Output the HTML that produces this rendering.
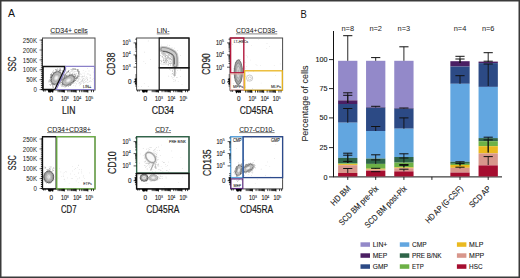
<!DOCTYPE html>
<html><head><meta charset="utf-8"><style>
html,body{margin:0;padding:0;background:#fff;}
body{width:520px;height:278px;overflow:hidden;position:relative;}
svg{position:absolute;left:0;top:0;font-family:"Liberation Sans", sans-serif;}
</style></head><body>
<svg width="520" height="278" viewBox="0 0 520 278">
<defs><filter id="bl" x="-20%" y="-20%" width="140%" height="140%"><feGaussianBlur stdDeviation="0.15"/></filter></defs>
<rect x="0" y="0" width="520" height="278" fill="#fff"/>
<text x="8" y="17.3" font-size="10.5" fill="#111">A</text>
<text x="300.6" y="17.6" font-size="10.5" fill="#111" textLength="6.3" lengthAdjust="spacingAndGlyphs">B</text>
<text x="69.05" y="33.3" font-size="7.8" fill="#222" text-anchor="middle" textLength="37.5" lengthAdjust="spacingAndGlyphs" stroke="#222" stroke-width="0.06">CD34+ cells</text>
<line x1="50.3" y1="33.9" x2="87.8" y2="33.9" stroke="#333" stroke-width="0.6"/>
<text x="68.75" y="113.9" font-size="10.0" fill="#1a1a1a" text-anchor="middle" textLength="13.3" lengthAdjust="spacingAndGlyphs" stroke="#1a1a1a" stroke-width="0.2">LIN</text>
<text x="16.0" y="64" font-size="10.0" fill="#1a1a1a" text-anchor="middle" textLength="15" lengthAdjust="spacingAndGlyphs" transform="rotate(-90 16.0 64)" stroke="#1a1a1a" stroke-width="0.2">SSC</text>
<text x="163.10000000000002" y="33.3" font-size="7.8" fill="#222" text-anchor="middle" textLength="12.7" lengthAdjust="spacingAndGlyphs" stroke="#222" stroke-width="0.06">LIN-</text>
<line x1="156.75000000000003" y1="33.9" x2="169.45000000000002" y2="33.9" stroke="#333" stroke-width="0.6"/>
<text x="162.8" y="113.9" font-size="10.0" fill="#1a1a1a" text-anchor="middle" textLength="22.3" lengthAdjust="spacingAndGlyphs" stroke="#1a1a1a" stroke-width="0.2">CD34</text>
<text x="115.1" y="64" font-size="10.0" fill="#1a1a1a" text-anchor="middle" textLength="22.7" lengthAdjust="spacingAndGlyphs" transform="rotate(-90 115.1 64)" stroke="#1a1a1a" stroke-width="0.2">CD38</text>
<text x="256.6" y="33.3" font-size="7.8" fill="#222" text-anchor="middle" textLength="41.3" lengthAdjust="spacingAndGlyphs" stroke="#222" stroke-width="0.06">CD34+CD38-</text>
<line x1="235.95000000000002" y1="33.9" x2="277.25" y2="33.9" stroke="#333" stroke-width="0.6"/>
<text x="256.3" y="113.9" font-size="10.0" fill="#1a1a1a" text-anchor="middle" textLength="33.2" lengthAdjust="spacingAndGlyphs" stroke="#1a1a1a" stroke-width="0.2">CD45RA</text>
<text x="209.6" y="64" font-size="10.0" fill="#1a1a1a" text-anchor="middle" textLength="21.5" lengthAdjust="spacingAndGlyphs" transform="rotate(-90 209.6 64)" stroke="#1a1a1a" stroke-width="0.2">CD90</text>
<text x="69.05" y="132.0" font-size="7.8" fill="#222" text-anchor="middle" textLength="43.8" lengthAdjust="spacingAndGlyphs" stroke="#222" stroke-width="0.06">CD34+CD38+</text>
<line x1="47.15" y1="132.6" x2="90.94999999999999" y2="132.6" stroke="#333" stroke-width="0.6"/>
<text x="68.75" y="212.6" font-size="10.0" fill="#1a1a1a" text-anchor="middle" textLength="15.5" lengthAdjust="spacingAndGlyphs" stroke="#1a1a1a" stroke-width="0.2">CD7</text>
<text x="16.5" y="162.7" font-size="10.0" fill="#1a1a1a" text-anchor="middle" textLength="15" lengthAdjust="spacingAndGlyphs" transform="rotate(-90 16.5 162.7)" stroke="#1a1a1a" stroke-width="0.2">SSC</text>
<text x="163.10000000000002" y="132.0" font-size="7.8" fill="#222" text-anchor="middle" textLength="15.9" lengthAdjust="spacingAndGlyphs" stroke="#222" stroke-width="0.06">CD7-</text>
<line x1="155.15000000000003" y1="132.6" x2="171.05" y2="132.6" stroke="#333" stroke-width="0.6"/>
<text x="162.8" y="212.6" font-size="10.0" fill="#1a1a1a" text-anchor="middle" textLength="33.2" lengthAdjust="spacingAndGlyphs" stroke="#1a1a1a" stroke-width="0.2">CD45RA</text>
<text x="115.89999999999999" y="162.7" font-size="10.0" fill="#1a1a1a" text-anchor="middle" textLength="22.7" lengthAdjust="spacingAndGlyphs" transform="rotate(-90 115.89999999999999 162.7)" stroke="#1a1a1a" stroke-width="0.2">CD10</text>
<text x="256.90000000000003" y="132.0" font-size="7.8" fill="#222" text-anchor="middle" textLength="35.4" lengthAdjust="spacingAndGlyphs" stroke="#222" stroke-width="0.06">CD7-CD10-</text>
<line x1="239.20000000000005" y1="132.6" x2="274.6" y2="132.6" stroke="#333" stroke-width="0.6"/>
<text x="256.6" y="212.6" font-size="10.0" fill="#1a1a1a" text-anchor="middle" textLength="33.2" lengthAdjust="spacingAndGlyphs" stroke="#1a1a1a" stroke-width="0.2">CD45RA</text>
<text x="210.6" y="162.7" font-size="10.0" fill="#1a1a1a" text-anchor="middle" textLength="26.6" lengthAdjust="spacingAndGlyphs" transform="rotate(-90 210.6 162.7)" stroke="#1a1a1a" stroke-width="0.2">CD135</text>
<rect x="42.5" y="38" width="52.5" height="52" fill="white" stroke="#4a4a4a" stroke-width="1"/>
<g fill="#aaa"><circle cx="78.2" cy="81.0" r="0.3"/><circle cx="78.4" cy="77.7" r="0.3"/><circle cx="73.5" cy="78.1" r="0.3"/><circle cx="87.8" cy="80.7" r="0.3"/><circle cx="87.3" cy="80.0" r="0.3"/><circle cx="82.8" cy="79.7" r="0.3"/><circle cx="68.3" cy="82.4" r="0.3"/><circle cx="83.5" cy="81.0" r="0.3"/><circle cx="68.2" cy="72.0" r="0.3"/><circle cx="73.8" cy="77.1" r="0.3"/><circle cx="82.1" cy="78.8" r="0.3"/><circle cx="83.6" cy="76.4" r="0.3"/><circle cx="82.2" cy="80.6" r="0.3"/><circle cx="75.4" cy="85.9" r="0.3"/><circle cx="83.9" cy="83.8" r="0.3"/><circle cx="75.7" cy="76.0" r="0.3"/><circle cx="77.6" cy="78.6" r="0.3"/><circle cx="84.4" cy="80.0" r="0.3"/><circle cx="76.9" cy="75.2" r="0.3"/><circle cx="76.4" cy="83.9" r="0.3"/><circle cx="74.3" cy="80.0" r="0.3"/><circle cx="83.0" cy="73.0" r="0.3"/><circle cx="80.3" cy="84.2" r="0.3"/><circle cx="65.9" cy="77.7" r="0.3"/><circle cx="79.3" cy="75.7" r="0.3"/><circle cx="83.5" cy="78.8" r="0.3"/><circle cx="69.7" cy="82.3" r="0.3"/><circle cx="84.7" cy="82.8" r="0.3"/><circle cx="90.1" cy="80.4" r="0.3"/><circle cx="80.8" cy="73.8" r="0.3"/><circle cx="84.3" cy="76.6" r="0.3"/><circle cx="76.8" cy="73.9" r="0.3"/><circle cx="73.2" cy="76.9" r="0.3"/><circle cx="89.0" cy="70.9" r="0.3"/><circle cx="69.8" cy="80.0" r="0.3"/><circle cx="90.1" cy="81.3" r="0.3"/><circle cx="66.7" cy="68.9" r="0.3"/><circle cx="82.5" cy="76.1" r="0.3"/><circle cx="72.2" cy="82.9" r="0.3"/><circle cx="87.7" cy="79.6" r="0.3"/><circle cx="81.7" cy="80.7" r="0.3"/><circle cx="91.2" cy="81.5" r="0.3"/><circle cx="83.6" cy="81.2" r="0.3"/><circle cx="69.0" cy="84.1" r="0.3"/><circle cx="86.7" cy="81.1" r="0.3"/><circle cx="66.2" cy="76.5" r="0.3"/><circle cx="85.9" cy="71.8" r="0.3"/><circle cx="78.7" cy="83.1" r="0.3"/><circle cx="70.8" cy="85.4" r="0.3"/><circle cx="83.9" cy="78.4" r="0.3"/><circle cx="82.3" cy="81.6" r="0.3"/><circle cx="80.8" cy="83.6" r="0.3"/><circle cx="75.4" cy="77.3" r="0.3"/><circle cx="87.3" cy="79.1" r="0.3"/><circle cx="73.8" cy="82.8" r="0.3"/><circle cx="90.3" cy="77.2" r="0.3"/><circle cx="70.3" cy="78.5" r="0.3"/><circle cx="79.0" cy="77.8" r="0.3"/><circle cx="89.8" cy="74.9" r="0.3"/><circle cx="88.8" cy="73.9" r="0.3"/><circle cx="74.5" cy="81.5" r="0.3"/><circle cx="87.9" cy="82.4" r="0.3"/><circle cx="82.4" cy="79.6" r="0.3"/><circle cx="81.1" cy="81.3" r="0.3"/><circle cx="78.8" cy="80.1" r="0.3"/><circle cx="84.0" cy="79.0" r="0.3"/><circle cx="85.3" cy="81.3" r="0.3"/><circle cx="94.1" cy="80.3" r="0.3"/><circle cx="77.0" cy="77.5" r="0.3"/><circle cx="79.9" cy="82.7" r="0.3"/><circle cx="77.6" cy="80.5" r="0.3"/><circle cx="92.9" cy="68.7" r="0.3"/><circle cx="72.1" cy="80.0" r="0.3"/><circle cx="82.8" cy="80.0" r="0.3"/><circle cx="77.0" cy="81.6" r="0.3"/><circle cx="82.0" cy="76.9" r="0.3"/><circle cx="76.1" cy="78.6" r="0.3"/><circle cx="78.4" cy="78.7" r="0.3"/><circle cx="60.9" cy="77.1" r="0.3"/><circle cx="87.1" cy="74.3" r="0.3"/><circle cx="79.5" cy="82.8" r="0.3"/><circle cx="86.0" cy="85.0" r="0.3"/><circle cx="68.1" cy="77.6" r="0.3"/><circle cx="77.6" cy="81.5" r="0.3"/><circle cx="87.6" cy="68.3" r="0.3"/><circle cx="87.6" cy="73.2" r="0.3"/><circle cx="84.8" cy="73.0" r="0.3"/><circle cx="81.2" cy="83.8" r="0.3"/><circle cx="79.0" cy="79.8" r="0.3"/><circle cx="85.6" cy="79.6" r="0.3"/><circle cx="79.4" cy="85.1" r="0.3"/><circle cx="87.3" cy="77.8" r="0.3"/><circle cx="86.4" cy="77.9" r="0.3"/><circle cx="80.9" cy="81.8" r="0.3"/><circle cx="81.6" cy="81.6" r="0.3"/><circle cx="69.3" cy="73.0" r="0.3"/><circle cx="84.3" cy="75.1" r="0.3"/><circle cx="72.8" cy="73.1" r="0.3"/><circle cx="88.9" cy="82.0" r="0.3"/><circle cx="90.3" cy="75.2" r="0.3"/><circle cx="80.0" cy="74.4" r="0.3"/><circle cx="85.4" cy="85.4" r="0.3"/><circle cx="73.8" cy="85.2" r="0.3"/><circle cx="86.9" cy="78.3" r="0.3"/><circle cx="66.2" cy="84.6" r="0.3"/><circle cx="79.3" cy="76.6" r="0.3"/><circle cx="82.8" cy="80.6" r="0.3"/><circle cx="90.5" cy="74.9" r="0.3"/><circle cx="88.0" cy="84.9" r="0.3"/><circle cx="90.2" cy="78.3" r="0.3"/><circle cx="74.8" cy="83.1" r="0.3"/><circle cx="80.8" cy="79.5" r="0.3"/><circle cx="90.0" cy="77.9" r="0.3"/><circle cx="63.9" cy="77.5" r="0.3"/><circle cx="67.0" cy="82.3" r="0.3"/><circle cx="82.2" cy="76.6" r="0.3"/><circle cx="79.9" cy="82.3" r="0.3"/><circle cx="80.6" cy="84.3" r="0.3"/><circle cx="79.6" cy="83.2" r="0.3"/><circle cx="90.4" cy="85.4" r="0.3"/><circle cx="75.3" cy="82.5" r="0.3"/><circle cx="66.9" cy="74.7" r="0.3"/><circle cx="66.3" cy="83.3" r="0.3"/><circle cx="71.4" cy="78.9" r="0.3"/><circle cx="78.7" cy="78.9" r="0.3"/><circle cx="75.9" cy="79.9" r="0.3"/><circle cx="92.5" cy="79.2" r="0.3"/><circle cx="83.7" cy="83.0" r="0.3"/><circle cx="78.6" cy="74.0" r="0.3"/><circle cx="76.1" cy="83.3" r="0.3"/><circle cx="68.5" cy="76.6" r="0.3"/><circle cx="87.1" cy="82.2" r="0.3"/><circle cx="80.1" cy="82.2" r="0.3"/><circle cx="81.2" cy="74.3" r="0.3"/><circle cx="69.1" cy="76.4" r="0.3"/><circle cx="86.5" cy="76.7" r="0.3"/><circle cx="73.7" cy="75.9" r="0.3"/><circle cx="69.3" cy="78.5" r="0.3"/><circle cx="71.7" cy="80.5" r="0.3"/><circle cx="63.5" cy="80.3" r="0.3"/><circle cx="75.5" cy="71.2" r="0.3"/><circle cx="85.1" cy="77.9" r="0.3"/><circle cx="64.4" cy="75.5" r="0.3"/><circle cx="82.0" cy="77.2" r="0.3"/><circle cx="85.5" cy="82.0" r="0.3"/><circle cx="84.7" cy="80.3" r="0.3"/><circle cx="89.3" cy="81.6" r="0.3"/><circle cx="83.2" cy="70.7" r="0.3"/><circle cx="86.3" cy="84.2" r="0.3"/><circle cx="77.9" cy="77.1" r="0.3"/><circle cx="93.6" cy="72.0" r="0.3"/><circle cx="83.3" cy="88.7" r="0.3"/><circle cx="73.5" cy="81.8" r="0.3"/><circle cx="93.2" cy="78.5" r="0.3"/><circle cx="83.9" cy="82.6" r="0.3"/><circle cx="73.7" cy="78.6" r="0.3"/><circle cx="82.0" cy="82.3" r="0.3"/><circle cx="79.8" cy="78.2" r="0.3"/></g>
<g fill="#999"><circle cx="70.0" cy="73.1" r="0.3"/><circle cx="75.7" cy="74.3" r="0.3"/><circle cx="70.4" cy="71.9" r="0.3"/><circle cx="81.0" cy="76.8" r="0.3"/><circle cx="74.9" cy="75.2" r="0.3"/><circle cx="78.1" cy="75.1" r="0.3"/><circle cx="72.8" cy="75.3" r="0.3"/><circle cx="67.2" cy="76.6" r="0.3"/><circle cx="74.0" cy="72.2" r="0.3"/><circle cx="77.0" cy="78.5" r="0.3"/><circle cx="68.8" cy="72.3" r="0.3"/><circle cx="73.9" cy="74.5" r="0.3"/><circle cx="71.8" cy="71.6" r="0.3"/><circle cx="79.4" cy="76.6" r="0.3"/><circle cx="69.4" cy="70.6" r="0.3"/><circle cx="78.1" cy="76.5" r="0.3"/><circle cx="78.5" cy="76.0" r="0.3"/><circle cx="70.4" cy="74.7" r="0.3"/><circle cx="66.5" cy="72.1" r="0.3"/><circle cx="72.8" cy="75.3" r="0.3"/><circle cx="70.8" cy="73.7" r="0.3"/><circle cx="74.4" cy="74.9" r="0.3"/><circle cx="74.9" cy="74.5" r="0.3"/><circle cx="72.0" cy="76.0" r="0.3"/><circle cx="73.1" cy="71.9" r="0.3"/><circle cx="71.1" cy="74.0" r="0.3"/><circle cx="72.7" cy="74.4" r="0.3"/><circle cx="73.0" cy="74.4" r="0.3"/><circle cx="72.6" cy="70.9" r="0.3"/><circle cx="74.3" cy="76.6" r="0.3"/><circle cx="74.3" cy="73.5" r="0.3"/><circle cx="74.3" cy="71.6" r="0.3"/><circle cx="67.3" cy="74.1" r="0.3"/><circle cx="70.2" cy="75.8" r="0.3"/><circle cx="69.9" cy="77.9" r="0.3"/><circle cx="71.9" cy="70.6" r="0.3"/><circle cx="70.7" cy="75.3" r="0.3"/><circle cx="74.5" cy="74.4" r="0.3"/><circle cx="77.5" cy="75.8" r="0.3"/><circle cx="72.9" cy="75.5" r="0.3"/><circle cx="78.0" cy="76.4" r="0.3"/><circle cx="76.1" cy="71.3" r="0.3"/><circle cx="72.6" cy="75.8" r="0.3"/><circle cx="72.1" cy="76.7" r="0.3"/><circle cx="74.8" cy="76.3" r="0.3"/><circle cx="72.4" cy="80.4" r="0.3"/><circle cx="76.7" cy="73.5" r="0.3"/><circle cx="73.3" cy="80.5" r="0.3"/><circle cx="72.0" cy="76.2" r="0.3"/><circle cx="75.9" cy="74.0" r="0.3"/><circle cx="69.5" cy="74.5" r="0.3"/><circle cx="74.1" cy="76.8" r="0.3"/><circle cx="75.3" cy="74.1" r="0.3"/><circle cx="75.6" cy="75.3" r="0.3"/><circle cx="73.6" cy="74.1" r="0.3"/><circle cx="72.3" cy="75.7" r="0.3"/><circle cx="69.8" cy="72.4" r="0.3"/><circle cx="73.0" cy="70.3" r="0.3"/></g>
<g transform="translate(56.3 77.9) rotate(28)"><g fill="#777"><circle cx="-1.40" cy="-9.59" r="0.32"/><circle cx="-4.26" cy="5.29" r="0.32"/><circle cx="5.19" cy="-0.74" r="0.32"/><circle cx="-0.99" cy="-9.03" r="0.32"/><circle cx="6.26" cy="2.63" r="0.32"/><circle cx="4.76" cy="-5.72" r="0.32"/><circle cx="-0.65" cy="-9.57" r="0.32"/><circle cx="3.79" cy="6.77" r="0.32"/><circle cx="-6.50" cy="-0.27" r="0.32"/><circle cx="2.19" cy="-9.10" r="0.32"/><circle cx="-5.71" cy="-4.96" r="0.32"/><circle cx="-2.55" cy="-8.48" r="0.32"/><circle cx="0.63" cy="7.38" r="0.32"/><circle cx="3.76" cy="6.20" r="0.32"/><circle cx="5.14" cy="5.94" r="0.32"/><circle cx="-5.71" cy="-3.27" r="0.32"/><circle cx="-4.36" cy="-6.60" r="0.32"/><circle cx="-4.93" cy="0.49" r="0.32"/><circle cx="1.87" cy="-9.02" r="0.32"/><circle cx="-5.94" cy="-0.17" r="0.32"/><circle cx="-2.73" cy="-6.34" r="0.32"/><circle cx="-0.45" cy="-8.03" r="0.32"/><circle cx="4.85" cy="3.65" r="0.32"/><circle cx="-0.69" cy="-7.86" r="0.32"/><circle cx="-0.43" cy="-10.06" r="0.32"/><circle cx="-5.65" cy="0.32" r="0.32"/><circle cx="-6.17" cy="1.22" r="0.32"/><circle cx="0.65" cy="-9.03" r="0.32"/><circle cx="-3.17" cy="-5.91" r="0.32"/><circle cx="3.25" cy="6.44" r="0.32"/><circle cx="-0.23" cy="-8.19" r="0.32"/><circle cx="-4.52" cy="-3.05" r="0.32"/><circle cx="5.05" cy="3.01" r="0.32"/><circle cx="-2.94" cy="-8.19" r="0.32"/><circle cx="-2.47" cy="-7.29" r="0.32"/><circle cx="-5.78" cy="-0.90" r="0.32"/><circle cx="-5.04" cy="1.61" r="0.32"/><circle cx="4.17" cy="-4.90" r="0.32"/><circle cx="6.63" cy="-1.37" r="0.32"/><circle cx="5.76" cy="0.95" r="0.32"/><circle cx="2.87" cy="-9.11" r="0.32"/><circle cx="-5.17" cy="2.53" r="0.32"/><circle cx="1.68" cy="9.68" r="0.32"/><circle cx="1.47" cy="8.71" r="0.32"/><circle cx="3.72" cy="6.85" r="0.32"/><circle cx="4.96" cy="-2.26" r="0.32"/><circle cx="2.52" cy="-7.93" r="0.32"/><circle cx="4.74" cy="-6.08" r="0.32"/><circle cx="0.77" cy="9.80" r="0.32"/><circle cx="-4.96" cy="0.65" r="0.32"/><circle cx="5.86" cy="0.20" r="0.32"/><circle cx="-5.24" cy="2.50" r="0.32"/><circle cx="3.54" cy="6.43" r="0.32"/><circle cx="-2.63" cy="8.88" r="0.32"/><circle cx="6.35" cy="0.10" r="0.32"/><circle cx="2.74" cy="-6.51" r="0.32"/><circle cx="5.62" cy="-4.17" r="0.32"/><circle cx="4.46" cy="-4.73" r="0.32"/><circle cx="-3.94" cy="6.08" r="0.32"/><circle cx="6.04" cy="-0.07" r="0.32"/><circle cx="-3.68" cy="6.56" r="0.32"/><circle cx="-0.79" cy="7.39" r="0.32"/><circle cx="5.22" cy="5.78" r="0.32"/><circle cx="-1.49" cy="9.72" r="0.32"/><circle cx="0.02" cy="8.09" r="0.32"/><circle cx="-5.28" cy="-0.54" r="0.32"/><circle cx="-4.71" cy="7.16" r="0.32"/><circle cx="4.83" cy="-6.40" r="0.32"/><circle cx="-4.53" cy="-7.26" r="0.32"/><circle cx="5.56" cy="-3.24" r="0.32"/><circle cx="-0.96" cy="-7.35" r="0.32"/><circle cx="-0.64" cy="-8.56" r="0.32"/><circle cx="0.10" cy="-9.15" r="0.32"/><circle cx="-1.13" cy="7.29" r="0.32"/><circle cx="4.64" cy="-3.42" r="0.32"/><circle cx="-5.50" cy="1.45" r="0.32"/><circle cx="-1.87" cy="9.00" r="0.32"/><circle cx="5.36" cy="-1.20" r="0.32"/><circle cx="-3.06" cy="-6.80" r="0.32"/><circle cx="-5.31" cy="-2.98" r="0.32"/><circle cx="2.60" cy="6.77" r="0.32"/><circle cx="1.74" cy="9.54" r="0.32"/><circle cx="-5.35" cy="0.15" r="0.32"/><circle cx="5.66" cy="-5.63" r="0.32"/><circle cx="-4.94" cy="2.39" r="0.32"/><circle cx="1.81" cy="7.11" r="0.32"/><circle cx="-2.79" cy="6.37" r="0.32"/><circle cx="0.37" cy="8.05" r="0.32"/><circle cx="-5.98" cy="-4.17" r="0.32"/><circle cx="-0.01" cy="-8.51" r="0.32"/><circle cx="-5.07" cy="4.54" r="0.32"/><circle cx="-3.99" cy="5.80" r="0.32"/><circle cx="5.05" cy="3.09" r="0.32"/><circle cx="5.07" cy="-1.55" r="0.32"/><circle cx="-6.12" cy="-0.19" r="0.32"/><circle cx="3.48" cy="-6.04" r="0.32"/><circle cx="-0.71" cy="7.98" r="0.32"/><circle cx="-4.67" cy="5.06" r="0.32"/><circle cx="6.26" cy="-2.78" r="0.32"/><circle cx="3.47" cy="-5.31" r="0.32"/><circle cx="6.14" cy="1.88" r="0.32"/><circle cx="4.62" cy="-5.29" r="0.32"/><circle cx="-4.21" cy="-3.83" r="0.32"/><circle cx="-5.19" cy="6.27" r="0.32"/><circle cx="2.99" cy="-8.67" r="0.32"/><circle cx="5.32" cy="-1.40" r="0.32"/><circle cx="4.05" cy="4.92" r="0.32"/><circle cx="-6.16" cy="-1.30" r="0.32"/><circle cx="5.87" cy="-3.37" r="0.32"/><circle cx="-3.83" cy="-7.58" r="0.32"/><circle cx="-5.76" cy="2.36" r="0.32"/><circle cx="6.21" cy="2.35" r="0.32"/><circle cx="0.73" cy="9.87" r="0.32"/><circle cx="-3.36" cy="-6.50" r="0.32"/><circle cx="3.75" cy="5.80" r="0.32"/><circle cx="-4.09" cy="-7.03" r="0.32"/><circle cx="3.86" cy="4.89" r="0.32"/><circle cx="-5.96" cy="-1.37" r="0.32"/><circle cx="-4.08" cy="5.16" r="0.32"/><circle cx="-3.99" cy="-4.38" r="0.32"/><circle cx="-1.85" cy="8.19" r="0.32"/><circle cx="5.94" cy="-2.34" r="0.32"/><circle cx="4.34" cy="-5.79" r="0.32"/><circle cx="0.52" cy="8.00" r="0.32"/><circle cx="6.07" cy="-2.28" r="0.32"/><circle cx="-1.76" cy="6.93" r="0.32"/><circle cx="-6.20" cy="0.10" r="0.32"/><circle cx="-4.75" cy="3.89" r="0.32"/><circle cx="-3.31" cy="-8.63" r="0.32"/><circle cx="0.73" cy="7.37" r="0.32"/></g><g filter="url(#bl)"><ellipse rx="4.70" ry="7.00" fill="#a6a6a6" stroke="#4a4a4a" stroke-width="1.0"/><ellipse rx="3.67" ry="5.46" fill="#cdcdcd"/><ellipse rx="2.82" ry="4.20" fill="#b4b4b4" stroke="#909090" stroke-width="0.5"/><ellipse rx="1.88" ry="2.80" fill="#e2e2e2"/><ellipse rx="0.85" ry="1.26" fill="#fcfcfc"/></g></g>
<g transform="translate(71.6 75.6) rotate(50)"><g fill="#7a7a7a"><circle cx="-2.91" cy="6.89" r="0.32"/><circle cx="-2.19" cy="-7.11" r="0.32"/><circle cx="1.69" cy="-8.14" r="0.32"/><circle cx="-5.33" cy="-0.24" r="0.32"/><circle cx="5.33" cy="-1.50" r="0.32"/><circle cx="2.28" cy="-7.10" r="0.32"/><circle cx="1.04" cy="8.40" r="0.32"/><circle cx="-1.67" cy="8.44" r="0.32"/><circle cx="-5.32" cy="0.21" r="0.32"/><circle cx="0.92" cy="7.98" r="0.32"/><circle cx="-3.05" cy="-7.57" r="0.32"/><circle cx="3.34" cy="6.41" r="0.32"/><circle cx="1.39" cy="8.58" r="0.32"/><circle cx="3.27" cy="5.92" r="0.32"/><circle cx="5.12" cy="2.97" r="0.32"/><circle cx="4.77" cy="-5.20" r="0.32"/><circle cx="-0.65" cy="-8.80" r="0.32"/><circle cx="4.95" cy="-3.32" r="0.32"/><circle cx="2.36" cy="8.06" r="0.32"/><circle cx="-0.12" cy="-7.58" r="0.32"/><circle cx="-2.81" cy="-6.91" r="0.32"/><circle cx="-3.83" cy="5.68" r="0.32"/><circle cx="2.50" cy="6.60" r="0.32"/><circle cx="-1.02" cy="7.87" r="0.32"/><circle cx="5.06" cy="-2.13" r="0.32"/><circle cx="5.20" cy="-1.74" r="0.32"/><circle cx="-3.66" cy="6.76" r="0.32"/><circle cx="2.42" cy="-7.30" r="0.32"/><circle cx="5.31" cy="2.49" r="0.32"/><circle cx="-4.16" cy="6.28" r="0.32"/><circle cx="1.92" cy="7.51" r="0.32"/><circle cx="4.13" cy="-4.57" r="0.32"/><circle cx="-4.98" cy="4.58" r="0.32"/><circle cx="0.54" cy="-7.56" r="0.32"/><circle cx="5.08" cy="1.66" r="0.32"/><circle cx="4.72" cy="-3.79" r="0.32"/><circle cx="-0.10" cy="-8.72" r="0.32"/><circle cx="-2.86" cy="6.70" r="0.32"/><circle cx="5.50" cy="-2.19" r="0.32"/><circle cx="-0.44" cy="8.46" r="0.32"/><circle cx="-2.19" cy="7.23" r="0.32"/><circle cx="5.83" cy="0.20" r="0.32"/><circle cx="4.95" cy="-4.20" r="0.32"/><circle cx="4.85" cy="-2.64" r="0.32"/><circle cx="0.56" cy="8.13" r="0.32"/><circle cx="5.79" cy="-2.36" r="0.32"/><circle cx="-4.07" cy="5.15" r="0.32"/><circle cx="-5.06" cy="3.49" r="0.32"/><circle cx="4.78" cy="-3.40" r="0.32"/><circle cx="1.89" cy="-8.05" r="0.32"/><circle cx="2.58" cy="-7.68" r="0.32"/><circle cx="-4.26" cy="-4.98" r="0.32"/><circle cx="-2.32" cy="7.27" r="0.32"/><circle cx="1.05" cy="-7.49" r="0.32"/><circle cx="1.89" cy="8.07" r="0.32"/><circle cx="0.09" cy="7.63" r="0.32"/><circle cx="5.52" cy="1.75" r="0.32"/><circle cx="-2.76" cy="7.85" r="0.32"/><circle cx="4.49" cy="-5.91" r="0.32"/><circle cx="-0.49" cy="7.62" r="0.32"/><circle cx="4.60" cy="4.67" r="0.32"/><circle cx="-1.39" cy="-7.87" r="0.32"/><circle cx="0.55" cy="8.05" r="0.32"/><circle cx="-4.19" cy="-5.78" r="0.32"/><circle cx="-0.08" cy="-8.65" r="0.32"/><circle cx="-2.69" cy="-6.62" r="0.32"/><circle cx="2.93" cy="-6.67" r="0.32"/><circle cx="-5.01" cy="-3.28" r="0.32"/><circle cx="-0.40" cy="-7.78" r="0.32"/><circle cx="0.09" cy="7.86" r="0.32"/><circle cx="3.39" cy="7.15" r="0.32"/><circle cx="-4.80" cy="-3.76" r="0.32"/><circle cx="-4.80" cy="5.37" r="0.32"/><circle cx="-5.35" cy="-0.36" r="0.32"/><circle cx="2.06" cy="-7.84" r="0.32"/><circle cx="5.24" cy="-0.44" r="0.32"/><circle cx="-5.81" cy="1.36" r="0.32"/><circle cx="3.22" cy="-7.37" r="0.32"/><circle cx="5.24" cy="1.99" r="0.32"/><circle cx="3.90" cy="5.31" r="0.32"/><circle cx="5.59" cy="-1.40" r="0.32"/><circle cx="4.97" cy="-3.41" r="0.32"/><circle cx="3.70" cy="-6.06" r="0.32"/><circle cx="-0.37" cy="8.55" r="0.32"/><circle cx="4.94" cy="-2.57" r="0.32"/><circle cx="-4.70" cy="-4.75" r="0.32"/><circle cx="1.11" cy="7.86" r="0.32"/><circle cx="3.37" cy="6.06" r="0.32"/><circle cx="-0.18" cy="8.33" r="0.32"/><circle cx="-3.09" cy="-6.37" r="0.32"/><circle cx="5.43" cy="0.57" r="0.32"/><circle cx="-2.31" cy="-7.01" r="0.32"/><circle cx="-2.03" cy="7.22" r="0.32"/><circle cx="1.58" cy="-7.93" r="0.32"/><circle cx="4.83" cy="2.97" r="0.32"/><circle cx="-4.47" cy="5.05" r="0.32"/><circle cx="-3.36" cy="-5.88" r="0.32"/><circle cx="2.98" cy="7.24" r="0.32"/><circle cx="-4.56" cy="4.25" r="0.32"/><circle cx="-2.13" cy="8.22" r="0.32"/><circle cx="-2.16" cy="7.66" r="0.32"/><circle cx="-3.45" cy="6.32" r="0.32"/><circle cx="3.98" cy="-6.67" r="0.32"/><circle cx="-3.49" cy="5.89" r="0.32"/><circle cx="-0.73" cy="-7.74" r="0.32"/><circle cx="5.96" cy="0.32" r="0.32"/><circle cx="-5.22" cy="3.97" r="0.32"/><circle cx="-4.94" cy="4.84" r="0.32"/><circle cx="-5.14" cy="1.89" r="0.32"/><circle cx="5.62" cy="0.77" r="0.32"/><circle cx="-3.78" cy="-6.76" r="0.32"/><circle cx="4.84" cy="4.44" r="0.32"/><circle cx="-3.86" cy="5.95" r="0.32"/><circle cx="3.29" cy="6.28" r="0.32"/><circle cx="-5.93" cy="-1.16" r="0.32"/><circle cx="4.34" cy="5.17" r="0.32"/><circle cx="2.03" cy="-8.30" r="0.32"/><circle cx="1.71" cy="7.29" r="0.32"/><circle cx="5.64" cy="-3.09" r="0.32"/><circle cx="-5.17" cy="0.82" r="0.32"/><circle cx="4.92" cy="-3.60" r="0.32"/><circle cx="4.71" cy="-4.73" r="0.32"/><circle cx="2.39" cy="-6.92" r="0.32"/><circle cx="1.19" cy="-7.64" r="0.32"/><circle cx="-4.88" cy="4.89" r="0.32"/><circle cx="2.54" cy="-6.84" r="0.32"/><circle cx="1.10" cy="7.91" r="0.32"/><circle cx="-5.46" cy="-0.90" r="0.32"/><circle cx="3.85" cy="5.50" r="0.32"/><circle cx="-0.94" cy="-8.61" r="0.32"/><circle cx="5.47" cy="2.11" r="0.32"/><circle cx="0.24" cy="-7.59" r="0.32"/><circle cx="2.77" cy="-6.55" r="0.32"/><circle cx="-4.58" cy="-4.84" r="0.32"/><circle cx="-3.79" cy="-5.69" r="0.32"/><circle cx="-4.97" cy="4.00" r="0.32"/><circle cx="-5.13" cy="3.78" r="0.32"/><circle cx="-5.24" cy="2.66" r="0.32"/><circle cx="5.65" cy="1.22" r="0.32"/><circle cx="-5.35" cy="0.52" r="0.32"/><circle cx="0.50" cy="-8.54" r="0.32"/><circle cx="-5.13" cy="2.02" r="0.32"/><circle cx="-5.17" cy="1.29" r="0.32"/><circle cx="3.83" cy="5.86" r="0.32"/><circle cx="4.65" cy="4.43" r="0.32"/><circle cx="-5.18" cy="-0.48" r="0.32"/><circle cx="-3.42" cy="-5.79" r="0.32"/><circle cx="-0.61" cy="-8.52" r="0.32"/><circle cx="-5.19" cy="-0.55" r="0.32"/><circle cx="-5.49" cy="-0.20" r="0.32"/></g><g filter="url(#bl)"></g></g>
<g transform="translate(68.4 80.4) rotate(60)"><g fill="#777"><circle cx="4.36" cy="-2.31" r="0.32"/><circle cx="3.45" cy="-7.17" r="0.32"/><circle cx="-0.60" cy="-8.78" r="0.32"/><circle cx="1.91" cy="8.58" r="0.32"/><circle cx="-5.48" cy="0.46" r="0.32"/><circle cx="3.98" cy="-3.85" r="0.32"/><circle cx="1.30" cy="-8.79" r="0.32"/><circle cx="4.41" cy="3.20" r="0.32"/><circle cx="0.18" cy="-7.63" r="0.32"/><circle cx="3.77" cy="-4.75" r="0.32"/><circle cx="1.84" cy="-6.97" r="0.32"/><circle cx="-5.45" cy="-0.13" r="0.32"/><circle cx="1.22" cy="7.56" r="0.32"/><circle cx="-4.78" cy="-0.30" r="0.32"/><circle cx="4.51" cy="1.76" r="0.32"/><circle cx="2.89" cy="7.69" r="0.32"/><circle cx="-2.32" cy="-8.12" r="0.32"/><circle cx="2.59" cy="7.66" r="0.32"/><circle cx="3.76" cy="5.50" r="0.32"/><circle cx="-3.16" cy="-6.05" r="0.32"/><circle cx="3.52" cy="-5.99" r="0.32"/><circle cx="-4.74" cy="-4.32" r="0.32"/><circle cx="4.38" cy="5.60" r="0.32"/><circle cx="-3.33" cy="-5.87" r="0.32"/><circle cx="1.39" cy="-7.48" r="0.32"/><circle cx="5.06" cy="-0.50" r="0.32"/><circle cx="-3.37" cy="6.73" r="0.32"/><circle cx="-4.32" cy="2.72" r="0.32"/><circle cx="-0.18" cy="-7.43" r="0.32"/><circle cx="2.00" cy="-7.07" r="0.32"/><circle cx="-3.54" cy="-7.02" r="0.32"/><circle cx="-4.43" cy="-4.40" r="0.32"/><circle cx="-1.70" cy="6.79" r="0.32"/><circle cx="4.49" cy="1.61" r="0.32"/><circle cx="-3.66" cy="-5.42" r="0.32"/><circle cx="-5.40" cy="-0.72" r="0.32"/><circle cx="3.16" cy="5.72" r="0.32"/><circle cx="-2.55" cy="-6.06" r="0.32"/><circle cx="4.82" cy="0.13" r="0.32"/><circle cx="3.79" cy="4.96" r="0.32"/><circle cx="0.82" cy="8.31" r="0.32"/><circle cx="-3.94" cy="-4.10" r="0.32"/><circle cx="-3.53" cy="-5.77" r="0.32"/><circle cx="3.62" cy="6.79" r="0.32"/><circle cx="0.18" cy="7.61" r="0.32"/><circle cx="4.23" cy="4.82" r="0.32"/><circle cx="3.65" cy="-6.35" r="0.32"/><circle cx="-3.85" cy="4.52" r="0.32"/><circle cx="5.13" cy="0.62" r="0.32"/><circle cx="-4.45" cy="-3.05" r="0.32"/><circle cx="-3.00" cy="-6.47" r="0.32"/><circle cx="4.84" cy="-3.34" r="0.32"/><circle cx="0.05" cy="9.00" r="0.32"/><circle cx="4.83" cy="2.27" r="0.32"/><circle cx="-3.90" cy="4.33" r="0.32"/><circle cx="4.94" cy="3.15" r="0.32"/><circle cx="5.02" cy="0.65" r="0.32"/><circle cx="4.27" cy="-2.76" r="0.32"/><circle cx="1.59" cy="8.04" r="0.32"/><circle cx="-5.13" cy="-0.37" r="0.32"/><circle cx="1.79" cy="-7.06" r="0.32"/><circle cx="-1.74" cy="7.35" r="0.32"/><circle cx="5.16" cy="2.69" r="0.32"/><circle cx="1.07" cy="-8.47" r="0.32"/><circle cx="5.36" cy="0.35" r="0.32"/><circle cx="-0.15" cy="-8.19" r="0.32"/><circle cx="-0.26" cy="-8.16" r="0.32"/><circle cx="0.68" cy="7.45" r="0.32"/><circle cx="0.50" cy="7.37" r="0.32"/><circle cx="-2.69" cy="7.49" r="0.32"/></g><g filter="url(#bl)"><ellipse rx="4.10" ry="6.80" fill="#b0b0b0" stroke="#4e4e4e" stroke-width="1.0"/><ellipse rx="3.20" ry="5.30" fill="#d2d2d2"/><ellipse rx="2.46" ry="4.08" fill="#bbbbbb" stroke="#959595" stroke-width="0.5"/><ellipse rx="1.64" ry="2.72" fill="#e6e6e6"/><ellipse rx="0.74" ry="1.22" fill="#fcfcfc"/></g></g>
<polygon points="43.1,66.5 64.6,66.5 64.4,69.5 55,89.4 43.1,89.4" fill="none" stroke="#111" stroke-width="1.4" stroke-linejoin="miter"/>
<polygon points="65.6,66.4 94.5,66.4 94.5,89.5 56.2,89.5 65.4,70" fill="none" stroke="#8a80c8" stroke-width="1.1"/>
<text x="83.0" y="87.6" font-size="4.0" fill="#222" textLength="8.2" lengthAdjust="spacingAndGlyphs" stroke="#222" stroke-width="0.1">LIN+</text>
<text x="51.3" y="101.0" font-size="6.4" fill="#1a1a1a" text-anchor="middle" stroke="#222" stroke-width="0.13">0</text>
<text x="63.9" y="101.0" font-size="6.4" fill="#1a1a1a" text-anchor="middle" textLength="5.9" lengthAdjust="spacingAndGlyphs" stroke="#222" stroke-width="0.13">10</text>
<text x="67.7" y="98.7" font-size="4.1" fill="#1a1a1a" text-anchor="middle" stroke="#222" stroke-width="0.06">3</text>
<text x="76.3" y="101.0" font-size="6.4" fill="#1a1a1a" text-anchor="middle" textLength="5.9" lengthAdjust="spacingAndGlyphs" stroke="#222" stroke-width="0.13">10</text>
<text x="80.10000000000001" y="98.7" font-size="4.1" fill="#1a1a1a" text-anchor="middle" stroke="#222" stroke-width="0.06">4</text>
<text x="88.3" y="101.0" font-size="6.4" fill="#1a1a1a" text-anchor="middle" textLength="5.9" lengthAdjust="spacingAndGlyphs" stroke="#222" stroke-width="0.13">10</text>
<text x="92.10000000000001" y="98.7" font-size="4.1" fill="#1a1a1a" text-anchor="middle" stroke="#222" stroke-width="0.06">5</text>
<path d="M64.4 90 v2.6 M76.2 90 v2.6 M87.9 90 v2.6 M58.11 90 v2.2 M59.69 90 v2.2 M60.82 90 v2.2 M61.69 90 v2.2 M62.40 90 v2.2 M63.01 90 v2.2 M63.53 90 v2.2 M63.99 90 v2.2 M67.95 90 v2.2 M70.03 90 v2.2 M71.50 90 v2.2 M72.65 90 v2.2 M73.58 90 v2.2 M74.37 90 v2.2 M75.06 90 v2.2 M75.66 90 v2.2 M79.65 90 v2.2 M81.73 90 v2.2 M83.20 90 v2.2 M84.35 90 v2.2 M85.28 90 v2.2 M86.07 90 v2.2 M86.76 90 v2.2 M87.36 90 v2.2 M91.45 90 v2.2 M93.53 90 v2.2 M43.5 90 v1.6 M45.1 90 v1.6" stroke="#000" stroke-width="0.75" fill="none"/>
<path d="M47.7 90 h6 l-0.5 2.6 h-1 l-0.6 -1 l-0.8 1.4 l-0.8 -1.2 l-0.8 1.3 l-1 -1.2z" fill="#000"/>
<text x="37.0" y="92.19999999999999" font-size="6.8" fill="#262626" text-anchor="end" textLength="3.4" lengthAdjust="spacingAndGlyphs" stroke="#262626" stroke-width="0.03">0</text>
<line x1="39.5" y1="89.6" x2="42.5" y2="89.6" stroke="#222" stroke-width="0.6"/>
<text x="37.0" y="82.29999999999998" font-size="6.8" fill="#262626" text-anchor="end" textLength="10.8" lengthAdjust="spacingAndGlyphs" stroke="#262626" stroke-width="0.03">50K</text>
<line x1="39.5" y1="79.69999999999999" x2="42.5" y2="79.69999999999999" stroke="#222" stroke-width="0.6"/>
<text x="37.0" y="72.39999999999999" font-size="6.8" fill="#262626" text-anchor="end" textLength="14.2" lengthAdjust="spacingAndGlyphs" stroke="#262626" stroke-width="0.03">100K</text>
<line x1="39.5" y1="69.8" x2="42.5" y2="69.8" stroke="#222" stroke-width="0.6"/>
<text x="37.0" y="62.49999999999999" font-size="6.8" fill="#262626" text-anchor="end" textLength="14.2" lengthAdjust="spacingAndGlyphs" stroke="#262626" stroke-width="0.03">150K</text>
<line x1="39.5" y1="59.89999999999999" x2="42.5" y2="59.89999999999999" stroke="#222" stroke-width="0.6"/>
<text x="37.0" y="52.599999999999994" font-size="6.8" fill="#262626" text-anchor="end" textLength="14.2" lengthAdjust="spacingAndGlyphs" stroke="#262626" stroke-width="0.03">200K</text>
<line x1="39.5" y1="49.99999999999999" x2="42.5" y2="49.99999999999999" stroke="#222" stroke-width="0.6"/>
<text x="37.0" y="42.699999999999996" font-size="6.8" fill="#262626" text-anchor="end" textLength="14.2" lengthAdjust="spacingAndGlyphs" stroke="#262626" stroke-width="0.03">250K</text>
<line x1="39.5" y1="40.099999999999994" x2="42.5" y2="40.099999999999994" stroke="#222" stroke-width="0.6"/>
<path d="M40.9 89.6 h1.6 M40.9 87.6 h1.6 M40.9 85.6 h1.6 M40.9 83.7 h1.6 M40.9 81.7 h1.6 M40.9 79.7 h1.6 M40.9 77.7 h1.6 M40.9 75.7 h1.6 M40.9 73.8 h1.6 M40.9 71.8 h1.6 M40.9 69.8 h1.6 M40.9 67.8 h1.6 M40.9 65.8 h1.6 M40.9 63.9 h1.6 M40.9 61.9 h1.6 M40.9 59.9 h1.6 M40.9 57.9 h1.6 M40.9 55.9 h1.6 M40.9 54.0 h1.6 M40.9 52.0 h1.6 M40.9 50.0 h1.6 M40.9 48.0 h1.6 M40.9 46.0 h1.6 M40.9 44.1 h1.6 M40.9 42.1 h1.6 M40.9 40.1 h1.6" stroke="#000" stroke-width="0.85"/>
<rect x="136.6" y="38" width="52.400000000000006" height="52" fill="white" stroke="#4a4a4a" stroke-width="1"/>
<g fill="#999"><circle cx="165.1" cy="47.9" r="0.3"/><circle cx="167.2" cy="53.2" r="0.3"/><circle cx="163.5" cy="55.2" r="0.3"/><circle cx="169.3" cy="51.1" r="0.3"/><circle cx="167.4" cy="64.1" r="0.3"/><circle cx="171.1" cy="56.2" r="0.3"/><circle cx="168.6" cy="56.4" r="0.3"/><circle cx="167.8" cy="60.7" r="0.3"/><circle cx="167.6" cy="45.0" r="0.3"/><circle cx="167.9" cy="52.6" r="0.3"/><circle cx="170.9" cy="53.9" r="0.3"/><circle cx="163.3" cy="51.4" r="0.3"/><circle cx="161.6" cy="45.0" r="0.3"/><circle cx="165.1" cy="47.7" r="0.3"/><circle cx="161.3" cy="60.1" r="0.3"/><circle cx="164.5" cy="55.2" r="0.3"/><circle cx="169.5" cy="63.8" r="0.3"/><circle cx="176.7" cy="62.2" r="0.3"/><circle cx="168.6" cy="57.9" r="0.3"/><circle cx="176.1" cy="64.1" r="0.3"/><circle cx="166.6" cy="59.3" r="0.3"/><circle cx="169.3" cy="57.3" r="0.3"/><circle cx="165.7" cy="50.4" r="0.3"/><circle cx="165.6" cy="49.3" r="0.3"/><circle cx="173.5" cy="59.7" r="0.3"/><circle cx="162.6" cy="64.0" r="0.3"/><circle cx="172.0" cy="47.5" r="0.3"/><circle cx="176.3" cy="61.0" r="0.3"/><circle cx="177.3" cy="50.8" r="0.3"/><circle cx="170.4" cy="59.1" r="0.3"/><circle cx="168.9" cy="57.9" r="0.3"/><circle cx="172.7" cy="49.5" r="0.3"/><circle cx="162.4" cy="50.0" r="0.3"/><circle cx="165.5" cy="54.0" r="0.3"/><circle cx="169.7" cy="58.3" r="0.3"/><circle cx="168.1" cy="53.6" r="0.3"/><circle cx="166.0" cy="61.8" r="0.3"/><circle cx="171.4" cy="57.5" r="0.3"/><circle cx="166.5" cy="64.8" r="0.3"/><circle cx="165.3" cy="60.2" r="0.3"/><circle cx="173.2" cy="55.7" r="0.3"/><circle cx="171.7" cy="51.4" r="0.3"/><circle cx="172.6" cy="58.0" r="0.3"/><circle cx="160.9" cy="60.3" r="0.3"/><circle cx="164.0" cy="63.4" r="0.3"/><circle cx="164.9" cy="56.2" r="0.3"/><circle cx="169.3" cy="55.3" r="0.3"/><circle cx="169.2" cy="54.2" r="0.3"/><circle cx="171.0" cy="57.0" r="0.3"/><circle cx="173.2" cy="57.2" r="0.3"/><circle cx="170.1" cy="62.4" r="0.3"/><circle cx="163.1" cy="64.7" r="0.3"/><circle cx="167.3" cy="60.4" r="0.3"/><circle cx="166.4" cy="51.4" r="0.3"/><circle cx="172.9" cy="61.5" r="0.3"/><circle cx="174.9" cy="61.3" r="0.3"/><circle cx="165.4" cy="48.7" r="0.3"/><circle cx="165.1" cy="53.6" r="0.3"/><circle cx="164.3" cy="59.9" r="0.3"/><circle cx="169.5" cy="55.7" r="0.3"/><circle cx="168.8" cy="56.3" r="0.3"/><circle cx="169.0" cy="60.8" r="0.3"/><circle cx="172.3" cy="53.6" r="0.3"/><circle cx="161.2" cy="64.1" r="0.3"/><circle cx="168.5" cy="62.5" r="0.3"/><circle cx="160.6" cy="55.4" r="0.3"/><circle cx="168.1" cy="49.8" r="0.3"/><circle cx="165.7" cy="60.6" r="0.3"/><circle cx="172.9" cy="65.0" r="0.3"/><circle cx="164.1" cy="50.0" r="0.3"/><circle cx="170.3" cy="61.7" r="0.3"/><circle cx="168.9" cy="50.5" r="0.3"/><circle cx="171.5" cy="61.0" r="0.3"/><circle cx="170.5" cy="54.6" r="0.3"/><circle cx="169.4" cy="61.0" r="0.3"/><circle cx="165.5" cy="47.8" r="0.3"/><circle cx="169.5" cy="59.4" r="0.3"/><circle cx="168.1" cy="61.4" r="0.3"/><circle cx="165.4" cy="56.6" r="0.3"/><circle cx="166.6" cy="59.9" r="0.3"/><circle cx="175.2" cy="55.7" r="0.3"/><circle cx="177.2" cy="64.6" r="0.3"/><circle cx="171.6" cy="59.9" r="0.3"/><circle cx="176.0" cy="56.1" r="0.3"/><circle cx="167.5" cy="51.7" r="0.3"/><circle cx="170.1" cy="63.7" r="0.3"/><circle cx="170.4" cy="59.1" r="0.3"/><circle cx="167.1" cy="57.8" r="0.3"/><circle cx="161.6" cy="62.2" r="0.3"/><circle cx="166.2" cy="51.5" r="0.3"/><circle cx="164.6" cy="52.9" r="0.3"/><circle cx="171.8" cy="62.3" r="0.3"/><circle cx="161.9" cy="61.6" r="0.3"/><circle cx="172.0" cy="54.1" r="0.3"/><circle cx="161.3" cy="53.3" r="0.3"/><circle cx="165.1" cy="58.7" r="0.3"/><circle cx="166.4" cy="46.9" r="0.3"/><circle cx="169.1" cy="49.3" r="0.3"/><circle cx="172.1" cy="51.0" r="0.3"/><circle cx="164.9" cy="52.7" r="0.3"/><circle cx="165.6" cy="63.5" r="0.3"/><circle cx="171.8" cy="60.0" r="0.3"/><circle cx="169.4" cy="49.3" r="0.3"/><circle cx="165.7" cy="54.2" r="0.3"/><circle cx="163.6" cy="59.5" r="0.3"/></g>
<g fill="#8a8a8a"><circle cx="165.1" cy="55.2" r="0.32"/><circle cx="169.4" cy="63.3" r="0.32"/><circle cx="168.1" cy="54.1" r="0.32"/><circle cx="171.4" cy="59.2" r="0.32"/><circle cx="170.5" cy="63.9" r="0.32"/><circle cx="171.1" cy="56.2" r="0.32"/><circle cx="170.9" cy="61.1" r="0.32"/><circle cx="162.6" cy="56.4" r="0.32"/><circle cx="162.9" cy="57.6" r="0.32"/><circle cx="169.4" cy="53.7" r="0.32"/><circle cx="160.9" cy="63.2" r="0.32"/><circle cx="168.7" cy="63.9" r="0.32"/><circle cx="163.3" cy="62.2" r="0.32"/><circle cx="174.1" cy="66.0" r="0.32"/><circle cx="166.8" cy="59.1" r="0.32"/><circle cx="167.0" cy="62.0" r="0.32"/><circle cx="170.8" cy="58.3" r="0.32"/><circle cx="163.2" cy="61.0" r="0.32"/><circle cx="166.0" cy="60.5" r="0.32"/><circle cx="168.3" cy="64.5" r="0.32"/><circle cx="171.1" cy="56.2" r="0.32"/><circle cx="168.6" cy="65.1" r="0.32"/><circle cx="165.8" cy="59.7" r="0.32"/><circle cx="171.3" cy="63.0" r="0.32"/><circle cx="169.2" cy="52.7" r="0.32"/><circle cx="163.5" cy="59.0" r="0.32"/><circle cx="164.7" cy="62.6" r="0.32"/><circle cx="170.0" cy="51.3" r="0.32"/><circle cx="164.9" cy="58.7" r="0.32"/><circle cx="165.9" cy="57.4" r="0.32"/><circle cx="169.0" cy="54.8" r="0.32"/><circle cx="169.0" cy="55.5" r="0.32"/><circle cx="165.8" cy="60.1" r="0.32"/><circle cx="165.7" cy="59.1" r="0.32"/><circle cx="172.6" cy="58.1" r="0.32"/><circle cx="167.0" cy="60.9" r="0.32"/><circle cx="166.3" cy="62.3" r="0.32"/><circle cx="163.4" cy="60.5" r="0.32"/><circle cx="165.9" cy="54.8" r="0.32"/><circle cx="173.2" cy="54.6" r="0.32"/><circle cx="173.1" cy="60.6" r="0.32"/><circle cx="172.1" cy="54.1" r="0.32"/><circle cx="171.3" cy="63.8" r="0.32"/><circle cx="167.1" cy="57.5" r="0.32"/><circle cx="175.4" cy="58.7" r="0.32"/><circle cx="166.1" cy="55.5" r="0.32"/><circle cx="168.9" cy="59.3" r="0.32"/><circle cx="168.1" cy="64.9" r="0.32"/><circle cx="166.5" cy="59.9" r="0.32"/><circle cx="172.2" cy="54.0" r="0.32"/><circle cx="170.8" cy="65.3" r="0.32"/><circle cx="163.2" cy="53.6" r="0.32"/><circle cx="164.2" cy="50.6" r="0.32"/><circle cx="168.9" cy="50.6" r="0.32"/><circle cx="169.1" cy="63.8" r="0.32"/><circle cx="162.3" cy="56.7" r="0.32"/><circle cx="161.4" cy="61.1" r="0.32"/><circle cx="165.1" cy="56.9" r="0.32"/><circle cx="167.7" cy="60.2" r="0.32"/><circle cx="166.4" cy="58.1" r="0.32"/><circle cx="165.8" cy="58.5" r="0.32"/><circle cx="163.7" cy="58.3" r="0.32"/><circle cx="161.3" cy="56.0" r="0.32"/><circle cx="173.6" cy="58.3" r="0.32"/><circle cx="163.5" cy="59.0" r="0.32"/><circle cx="164.4" cy="51.4" r="0.32"/><circle cx="165.1" cy="60.9" r="0.32"/><circle cx="168.7" cy="57.6" r="0.32"/><circle cx="164.5" cy="53.7" r="0.32"/><circle cx="171.8" cy="59.0" r="0.32"/><circle cx="163.8" cy="57.7" r="0.32"/><circle cx="168.2" cy="57.4" r="0.32"/><circle cx="166.6" cy="52.5" r="0.32"/><circle cx="164.1" cy="64.8" r="0.32"/><circle cx="165.1" cy="61.4" r="0.32"/><circle cx="162.1" cy="56.9" r="0.32"/><circle cx="168.3" cy="62.1" r="0.32"/><circle cx="163.9" cy="60.4" r="0.32"/><circle cx="168.7" cy="55.0" r="0.32"/><circle cx="169.0" cy="54.4" r="0.32"/><circle cx="165.0" cy="57.9" r="0.32"/><circle cx="164.3" cy="52.1" r="0.32"/><circle cx="166.1" cy="61.1" r="0.32"/><circle cx="166.2" cy="63.1" r="0.32"/><circle cx="163.8" cy="52.8" r="0.32"/><circle cx="172.5" cy="59.6" r="0.32"/><circle cx="170.5" cy="54.7" r="0.32"/><circle cx="170.1" cy="59.0" r="0.32"/><circle cx="169.6" cy="58.1" r="0.32"/><circle cx="171.4" cy="55.4" r="0.32"/><circle cx="164.4" cy="52.1" r="0.32"/><circle cx="171.2" cy="55.0" r="0.32"/><circle cx="164.2" cy="54.2" r="0.32"/><circle cx="166.1" cy="52.9" r="0.32"/><circle cx="166.6" cy="55.5" r="0.32"/><circle cx="165.7" cy="54.2" r="0.32"/><circle cx="167.6" cy="56.2" r="0.32"/><circle cx="167.9" cy="59.0" r="0.32"/><circle cx="165.8" cy="54.8" r="0.32"/><circle cx="170.0" cy="51.7" r="0.32"/><circle cx="165.2" cy="56.8" r="0.32"/><circle cx="166.4" cy="62.0" r="0.32"/><circle cx="166.1" cy="61.9" r="0.32"/><circle cx="162.8" cy="50.8" r="0.32"/><circle cx="171.4" cy="59.7" r="0.32"/><circle cx="169.1" cy="58.5" r="0.32"/><circle cx="169.0" cy="53.1" r="0.32"/><circle cx="170.5" cy="55.9" r="0.32"/><circle cx="170.7" cy="58.4" r="0.32"/><circle cx="161.2" cy="52.9" r="0.32"/><circle cx="171.1" cy="57.5" r="0.32"/><circle cx="166.2" cy="59.0" r="0.32"/><circle cx="166.1" cy="55.8" r="0.32"/><circle cx="167.8" cy="58.6" r="0.32"/><circle cx="172.4" cy="58.2" r="0.32"/><circle cx="173.5" cy="65.2" r="0.32"/><circle cx="173.0" cy="62.2" r="0.32"/><circle cx="167.9" cy="58.5" r="0.32"/><circle cx="167.0" cy="55.1" r="0.32"/><circle cx="167.3" cy="55.4" r="0.32"/><circle cx="172.7" cy="60.1" r="0.32"/><circle cx="166.1" cy="50.3" r="0.32"/><circle cx="167.3" cy="56.3" r="0.32"/><circle cx="164.0" cy="53.5" r="0.32"/><circle cx="160.3" cy="60.3" r="0.32"/><circle cx="167.4" cy="57.4" r="0.32"/><circle cx="172.1" cy="58.5" r="0.32"/><circle cx="168.0" cy="56.5" r="0.32"/><circle cx="165.6" cy="64.0" r="0.32"/><circle cx="170.7" cy="64.9" r="0.32"/><circle cx="166.4" cy="58.1" r="0.32"/><circle cx="164.7" cy="61.9" r="0.32"/><circle cx="163.0" cy="60.3" r="0.32"/><circle cx="171.0" cy="63.6" r="0.32"/><circle cx="164.5" cy="62.4" r="0.32"/><circle cx="165.2" cy="55.0" r="0.32"/><circle cx="163.3" cy="62.6" r="0.32"/><circle cx="172.8" cy="55.6" r="0.32"/><circle cx="165.1" cy="56.6" r="0.32"/><circle cx="175.5" cy="62.0" r="0.32"/><circle cx="165.8" cy="50.8" r="0.32"/><circle cx="165.3" cy="62.7" r="0.32"/><circle cx="173.5" cy="56.9" r="0.32"/><circle cx="165.3" cy="56.0" r="0.32"/><circle cx="161.5" cy="61.6" r="0.32"/><circle cx="164.0" cy="62.3" r="0.32"/><circle cx="162.0" cy="52.9" r="0.32"/><circle cx="168.4" cy="54.9" r="0.32"/><circle cx="170.0" cy="58.0" r="0.32"/><circle cx="163.7" cy="60.5" r="0.32"/><circle cx="170.2" cy="50.3" r="0.32"/><circle cx="173.3" cy="60.0" r="0.32"/></g>
<g fill="#999"><circle cx="175.7" cy="63.7" r="0.3"/><circle cx="172.4" cy="71.3" r="0.3"/><circle cx="176.4" cy="65.7" r="0.3"/><circle cx="172.1" cy="62.9" r="0.3"/><circle cx="173.5" cy="74.7" r="0.3"/><circle cx="170.3" cy="70.0" r="0.3"/><circle cx="175.1" cy="80.9" r="0.3"/><circle cx="175.5" cy="71.5" r="0.3"/><circle cx="171.4" cy="68.3" r="0.3"/><circle cx="172.5" cy="73.7" r="0.3"/><circle cx="173.9" cy="81.3" r="0.3"/><circle cx="174.6" cy="67.6" r="0.3"/><circle cx="177.4" cy="77.7" r="0.3"/><circle cx="174.2" cy="69.4" r="0.3"/><circle cx="169.9" cy="67.9" r="0.3"/><circle cx="176.0" cy="69.0" r="0.3"/><circle cx="171.1" cy="74.0" r="0.3"/><circle cx="174.5" cy="76.0" r="0.3"/><circle cx="175.4" cy="80.0" r="0.3"/><circle cx="172.2" cy="77.9" r="0.3"/><circle cx="171.8" cy="76.5" r="0.3"/><circle cx="174.4" cy="74.2" r="0.3"/><circle cx="176.1" cy="72.9" r="0.3"/><circle cx="176.4" cy="77.4" r="0.3"/><circle cx="174.3" cy="70.2" r="0.3"/><circle cx="172.3" cy="70.4" r="0.3"/><circle cx="173.6" cy="72.9" r="0.3"/><circle cx="180.6" cy="76.2" r="0.3"/><circle cx="175.7" cy="68.7" r="0.3"/><circle cx="172.4" cy="71.4" r="0.3"/><circle cx="174.4" cy="67.8" r="0.3"/><circle cx="177.5" cy="70.2" r="0.3"/><circle cx="176.4" cy="61.3" r="0.3"/><circle cx="174.0" cy="74.4" r="0.3"/><circle cx="174.4" cy="76.0" r="0.3"/><circle cx="174.6" cy="73.8" r="0.3"/><circle cx="169.8" cy="69.4" r="0.3"/><circle cx="168.8" cy="76.1" r="0.3"/><circle cx="174.7" cy="72.0" r="0.3"/><circle cx="172.2" cy="70.1" r="0.3"/><circle cx="178.1" cy="81.7" r="0.3"/><circle cx="173.9" cy="79.4" r="0.3"/><circle cx="170.5" cy="63.3" r="0.3"/><circle cx="172.9" cy="68.6" r="0.3"/><circle cx="172.8" cy="73.9" r="0.3"/><circle cx="180.7" cy="69.7" r="0.3"/><circle cx="174.1" cy="74.4" r="0.3"/><circle cx="173.9" cy="77.7" r="0.3"/><circle cx="177.9" cy="66.8" r="0.3"/><circle cx="174.4" cy="71.7" r="0.3"/><circle cx="174.8" cy="65.3" r="0.3"/><circle cx="170.1" cy="61.4" r="0.3"/><circle cx="175.2" cy="74.0" r="0.3"/><circle cx="174.2" cy="61.2" r="0.3"/><circle cx="173.2" cy="69.2" r="0.3"/><circle cx="170.9" cy="68.4" r="0.3"/><circle cx="175.5" cy="75.7" r="0.3"/><circle cx="174.0" cy="75.6" r="0.3"/><circle cx="172.7" cy="73.4" r="0.3"/><circle cx="174.1" cy="75.8" r="0.3"/></g>
<g fill="#aaa"><circle cx="172.1" cy="38.7" r="0.3"/><circle cx="174.2" cy="48.1" r="0.3"/><circle cx="138.5" cy="86.2" r="0.3"/><circle cx="148.2" cy="86.6" r="0.3"/><circle cx="182.0" cy="84.2" r="0.3"/><circle cx="143.9" cy="61.3" r="0.3"/><circle cx="141.7" cy="86.3" r="0.3"/><circle cx="180.7" cy="70.7" r="0.3"/><circle cx="160.3" cy="55.7" r="0.3"/><circle cx="179.7" cy="62.8" r="0.3"/><circle cx="169.5" cy="45.4" r="0.3"/><circle cx="148.2" cy="40.9" r="0.3"/><circle cx="174.0" cy="66.8" r="0.3"/><circle cx="144.2" cy="83.3" r="0.3"/><circle cx="150.6" cy="59.4" r="0.3"/><circle cx="144.8" cy="52.1" r="0.3"/><circle cx="180.6" cy="55.4" r="0.3"/><circle cx="145.4" cy="63.5" r="0.3"/></g>
<g filter="url(#bl)"><ellipse cx="163.4" cy="52" rx="2.3" ry="4" fill="#d2d2d2" transform="rotate(-15 163.4 52)"/><ellipse cx="163.4" cy="51.5" rx="1.3" ry="3" fill="#bdbdbd" transform="rotate(-15 163.4 52)"/>
<path d="M162.6 49.2 C166.5 49.2 171 51.3 173.8 53.4 C175 54.5 175.3 56 175.3 58 L175.3 65" fill="none" stroke="#cacaca" stroke-width="6.6" stroke-linecap="round"/>
<path d="M162.6 49.2 C166.5 49.2 171 51.3 173.8 53.4 C175 54.5 175.3 56 175.3 58 L175.3 65" fill="none" stroke="#8c8c8c" stroke-width="4.6" stroke-linecap="round"/>
<path d="M162.6 49.2 C166.5 49.2 171 51.3 173.8 53.4 C175 54.5 175.3 56 175.3 58 L175.3 65" fill="none" stroke="#cbcbcb" stroke-width="2.4" stroke-linecap="round"/>
<path d="M163.2 51.4 C166.5 51.3 169.8 52.8 172.3 54.6 C173.8 55.7 174.3 57 174.4 59 L174.5 64" fill="none" stroke="#555" stroke-width="0.85" stroke-linecap="round"/>
<path d="M174.9 68 L174.6 75.5" stroke="#b0b0b0" stroke-width="1.7" stroke-linecap="round"/></g>
<rect x="159.2" y="38" width="29.80000000000001" height="29.799999999999997" fill="none" stroke="#111" stroke-width="1.2"/>
<rect x="159.2" y="67.8" width="29.80000000000001" height="22.200000000000003" fill="none" stroke="#111" stroke-width="1.2"/>
<text x="145.4" y="101.0" font-size="6.4" fill="#1a1a1a" text-anchor="middle" stroke="#222" stroke-width="0.13">0</text>
<text x="158.0" y="101.0" font-size="6.4" fill="#1a1a1a" text-anchor="middle" textLength="5.9" lengthAdjust="spacingAndGlyphs" stroke="#222" stroke-width="0.13">10</text>
<text x="161.8" y="98.7" font-size="4.1" fill="#1a1a1a" text-anchor="middle" stroke="#222" stroke-width="0.06">3</text>
<text x="170.4" y="101.0" font-size="6.4" fill="#1a1a1a" text-anchor="middle" textLength="5.9" lengthAdjust="spacingAndGlyphs" stroke="#222" stroke-width="0.13">10</text>
<text x="174.20000000000002" y="98.7" font-size="4.1" fill="#1a1a1a" text-anchor="middle" stroke="#222" stroke-width="0.06">4</text>
<text x="182.4" y="101.0" font-size="6.4" fill="#1a1a1a" text-anchor="middle" textLength="5.9" lengthAdjust="spacingAndGlyphs" stroke="#222" stroke-width="0.13">10</text>
<text x="186.20000000000002" y="98.7" font-size="4.1" fill="#1a1a1a" text-anchor="middle" stroke="#222" stroke-width="0.06">5</text>
<path d="M158.5 90 v2.6 M170.3 90 v2.6 M182.0 90 v2.6 M152.21 90 v2.2 M153.79 90 v2.2 M154.92 90 v2.2 M155.79 90 v2.2 M156.50 90 v2.2 M157.11 90 v2.2 M157.63 90 v2.2 M158.09 90 v2.2 M162.05 90 v2.2 M164.13 90 v2.2 M165.60 90 v2.2 M166.75 90 v2.2 M167.68 90 v2.2 M168.47 90 v2.2 M169.16 90 v2.2 M169.76 90 v2.2 M173.75 90 v2.2 M175.83 90 v2.2 M177.30 90 v2.2 M178.45 90 v2.2 M179.38 90 v2.2 M180.17 90 v2.2 M180.86 90 v2.2 M181.46 90 v2.2 M185.55 90 v2.2 M187.63 90 v2.2 M137.6 90 v1.6 M139.2 90 v1.6" stroke="#000" stroke-width="0.75" fill="none"/>
<path d="M141.79999999999998 90 h6 l-0.5 2.6 h-1 l-0.6 -1 l-0.8 1.4 l-0.8 -1.2 l-0.8 1.3 l-1 -1.2z" fill="#000"/>
<text x="131.6" y="84.3" font-size="6.4" fill="#1a1a1a" text-anchor="end" stroke="#222" stroke-width="0.13">0</text>
<text x="128.6" y="69.5" font-size="6.4" fill="#1a1a1a" text-anchor="end" textLength="6.0" lengthAdjust="spacingAndGlyphs" stroke="#222" stroke-width="0.13">10</text>
<text x="129.6" y="66.60000000000001" font-size="4.1" fill="#1a1a1a" text-anchor="middle" stroke="#222" stroke-width="0.06">3</text>
<text x="128.6" y="57.199999999999996" font-size="6.4" fill="#1a1a1a" text-anchor="end" textLength="6.0" lengthAdjust="spacingAndGlyphs" stroke="#222" stroke-width="0.13">10</text>
<text x="129.6" y="54.3" font-size="4.1" fill="#1a1a1a" text-anchor="middle" stroke="#222" stroke-width="0.06">4</text>
<text x="128.6" y="45.199999999999996" font-size="6.4" fill="#1a1a1a" text-anchor="end" textLength="6.0" lengthAdjust="spacingAndGlyphs" stroke="#222" stroke-width="0.13">10</text>
<text x="129.6" y="42.3" font-size="4.1" fill="#1a1a1a" text-anchor="middle" stroke="#222" stroke-width="0.06">5</text>
<path d="M133.6 82.0 h3 M133.6 67.2 h3 M133.6 54.9 h3 M133.6 42.9 h3 M135.1 79.0 h1.5 M135.1 77.0 h1.5 M135.1 75.0 h1.5 M135.1 84.0 h1.5 M135.1 86.0 h1.5 M135.1 63.5 h1.5 M135.1 61.3 h1.5 M135.1 59.9 h1.5 M135.1 58.7 h1.5 M135.1 57.7 h1.5 M135.1 56.8 h1.5 M135.1 56.2 h1.5 M135.1 55.6 h1.5 M135.1 51.2 h1.5 M135.1 49.0 h1.5 M135.1 47.6 h1.5 M135.1 46.4 h1.5 M135.1 45.4 h1.5 M135.1 44.5 h1.5 M135.1 43.9 h1.5 M135.1 43.3 h1.5 M135.1 39.2 h1.5" stroke="#111" stroke-width="0.7"/>
<path d="M136.6 78 v7 l-2 -1 l1 -1.5 l-1.5 -1 l1.2 -1.2 l-1.2 -1.3z" fill="#111"/>
<rect x="230" y="38" width="52.60000000000002" height="52.3" fill="white" stroke="#4a4a4a" stroke-width="1"/>
<g fill="#aaa"><circle cx="237.5" cy="89.7" r="0.3"/><circle cx="252.4" cy="88.4" r="0.3"/><circle cx="251.9" cy="78.7" r="0.3"/><circle cx="240.3" cy="66.6" r="0.3"/><circle cx="237.9" cy="73.0" r="0.3"/><circle cx="241.8" cy="78.0" r="0.3"/><circle cx="253.4" cy="71.8" r="0.3"/><circle cx="245.4" cy="76.3" r="0.3"/><circle cx="243.4" cy="70.1" r="0.3"/><circle cx="241.4" cy="64.6" r="0.3"/><circle cx="242.9" cy="71.8" r="0.3"/><circle cx="243.6" cy="64.3" r="0.3"/><circle cx="242.2" cy="72.4" r="0.3"/><circle cx="245.0" cy="62.4" r="0.3"/><circle cx="244.1" cy="80.8" r="0.3"/><circle cx="245.0" cy="68.7" r="0.3"/><circle cx="239.5" cy="69.9" r="0.3"/><circle cx="245.6" cy="86.0" r="0.3"/><circle cx="241.2" cy="66.2" r="0.3"/><circle cx="243.9" cy="73.8" r="0.3"/><circle cx="237.5" cy="65.4" r="0.3"/><circle cx="241.5" cy="78.0" r="0.3"/><circle cx="236.0" cy="62.8" r="0.3"/><circle cx="244.5" cy="61.0" r="0.3"/><circle cx="242.5" cy="75.2" r="0.3"/><circle cx="241.4" cy="62.8" r="0.3"/><circle cx="241.7" cy="69.0" r="0.3"/><circle cx="243.7" cy="64.5" r="0.3"/><circle cx="247.5" cy="56.9" r="0.3"/><circle cx="241.1" cy="72.1" r="0.3"/><circle cx="246.8" cy="66.5" r="0.3"/><circle cx="244.7" cy="66.9" r="0.3"/><circle cx="245.7" cy="87.6" r="0.3"/><circle cx="240.0" cy="76.0" r="0.3"/><circle cx="237.4" cy="80.8" r="0.3"/><circle cx="248.1" cy="72.3" r="0.3"/><circle cx="236.3" cy="75.6" r="0.3"/><circle cx="247.7" cy="81.8" r="0.3"/><circle cx="246.1" cy="55.5" r="0.3"/></g>
<g fill="#bbb"><circle cx="246.9" cy="75.2" r="0.3"/><circle cx="250.1" cy="77.3" r="0.3"/><circle cx="233.2" cy="83.6" r="0.3"/><circle cx="280.2" cy="63.9" r="0.3"/><circle cx="257.0" cy="65.7" r="0.3"/><circle cx="258.3" cy="39.1" r="0.3"/><circle cx="280.9" cy="49.7" r="0.3"/><circle cx="239.6" cy="43.4" r="0.3"/><circle cx="243.2" cy="80.7" r="0.3"/><circle cx="231.6" cy="43.0" r="0.3"/><circle cx="266.8" cy="48.2" r="0.3"/><circle cx="230.9" cy="69.3" r="0.3"/><circle cx="260.3" cy="65.3" r="0.3"/><circle cx="267.0" cy="43.4" r="0.3"/><circle cx="275.7" cy="75.5" r="0.3"/><circle cx="232.4" cy="44.4" r="0.3"/><circle cx="256.0" cy="64.2" r="0.3"/><circle cx="244.7" cy="44.4" r="0.3"/><circle cx="251.3" cy="45.2" r="0.3"/><circle cx="261.1" cy="83.0" r="0.3"/><circle cx="237.7" cy="68.0" r="0.3"/><circle cx="269.3" cy="46.6" r="0.3"/><circle cx="273.4" cy="87.0" r="0.3"/><circle cx="250.4" cy="60.0" r="0.3"/><circle cx="274.2" cy="65.5" r="0.3"/></g>
<g transform="translate(238.3 72.2) rotate(0)"><g fill="#999"><circle cx="-3.56" cy="8.27" r="0.32"/><circle cx="0.71" cy="-12.64" r="0.32"/><circle cx="0.26" cy="12.79" r="0.32"/><circle cx="-4.14" cy="5.36" r="0.32"/><circle cx="1.50" cy="-12.75" r="0.32"/><circle cx="1.77" cy="-12.34" r="0.32"/><circle cx="4.07" cy="4.31" r="0.32"/><circle cx="4.33" cy="-3.55" r="0.32"/><circle cx="0.02" cy="12.92" r="0.32"/><circle cx="-2.86" cy="-9.52" r="0.32"/><circle cx="-4.05" cy="-2.40" r="0.32"/><circle cx="-3.93" cy="5.32" r="0.32"/><circle cx="4.12" cy="1.64" r="0.32"/><circle cx="4.34" cy="-2.53" r="0.32"/><circle cx="4.02" cy="-5.09" r="0.32"/><circle cx="1.62" cy="-12.57" r="0.32"/><circle cx="3.08" cy="-8.25" r="0.32"/><circle cx="-2.65" cy="-9.89" r="0.32"/><circle cx="-1.83" cy="-11.47" r="0.32"/><circle cx="-4.32" cy="-3.55" r="0.32"/><circle cx="-3.04" cy="-8.77" r="0.32"/><circle cx="-4.24" cy="-1.65" r="0.32"/><circle cx="4.02" cy="-3.88" r="0.32"/><circle cx="-1.49" cy="12.41" r="0.32"/><circle cx="3.16" cy="9.02" r="0.32"/><circle cx="4.15" cy="-3.55" r="0.32"/><circle cx="-0.50" cy="12.89" r="0.32"/><circle cx="-4.07" cy="-2.65" r="0.32"/><circle cx="2.96" cy="8.82" r="0.32"/><circle cx="-1.15" cy="12.42" r="0.32"/></g><g filter="url(#bl)"><ellipse rx="4.10" ry="12.40" fill="#a4a4a4" stroke="#5e5e5e" stroke-width="0.8"/><ellipse rx="3.03" ry="9.18" fill="#bebebe" stroke="#777" stroke-width="0.6"/><ellipse rx="1.97" ry="5.95" fill="#d2d2d2" stroke="#888" stroke-width="0.5"/><ellipse rx="0.90" ry="2.73" fill="#b4b4b4"/></g></g>
<g fill="none"><circle cx="249.6" cy="78.1" r="3.1" stroke="#b4b4b4" stroke-width="0.7"/><circle cx="249.8" cy="78.3" r="1.5" stroke="#bcbcbc" stroke-width="0.6"/></g>
<rect x="230.6" y="38" width="13.200000000000017" height="34.8" fill="none" stroke="#b2183c" stroke-width="1.4"/>
<rect x="230.6" y="73.9" width="12.900000000000006" height="16.09999999999999" fill="none" stroke="#e6aca2" stroke-width="1.1"/>
<rect x="244.7" y="70.8" width="37.60000000000004" height="19.5" fill="none" stroke="#e9b522" stroke-width="1.3"/>
<text x="233.8" y="43.1" font-size="3.8" fill="#333" textLength="14.3" lengthAdjust="spacingAndGlyphs" stroke="#333" stroke-width="0.1">LT-HSCs</text>
<text x="233.1" y="88.4" font-size="3.9" fill="#333" textLength="9.9" lengthAdjust="spacingAndGlyphs" stroke="#333" stroke-width="0.1">MPPs</text>
<text x="271.0" y="88.4" font-size="3.9" fill="#333" textLength="9.9" lengthAdjust="spacingAndGlyphs" stroke="#333" stroke-width="0.1">MLPs</text>
<text x="238.8" y="101.3" font-size="6.4" fill="#1a1a1a" text-anchor="middle" stroke="#222" stroke-width="0.13">0</text>
<text x="251.4" y="101.3" font-size="6.4" fill="#1a1a1a" text-anchor="middle" textLength="5.9" lengthAdjust="spacingAndGlyphs" stroke="#222" stroke-width="0.13">10</text>
<text x="255.20000000000002" y="99.0" font-size="4.1" fill="#1a1a1a" text-anchor="middle" stroke="#222" stroke-width="0.06">3</text>
<text x="263.8" y="101.3" font-size="6.4" fill="#1a1a1a" text-anchor="middle" textLength="5.9" lengthAdjust="spacingAndGlyphs" stroke="#222" stroke-width="0.13">10</text>
<text x="267.59999999999997" y="99.0" font-size="4.1" fill="#1a1a1a" text-anchor="middle" stroke="#222" stroke-width="0.06">4</text>
<text x="275.8" y="101.3" font-size="6.4" fill="#1a1a1a" text-anchor="middle" textLength="5.9" lengthAdjust="spacingAndGlyphs" stroke="#222" stroke-width="0.13">10</text>
<text x="279.59999999999997" y="99.0" font-size="4.1" fill="#1a1a1a" text-anchor="middle" stroke="#222" stroke-width="0.06">5</text>
<path d="M251.9 90.3 v2.6 M263.7 90.3 v2.6 M275.4 90.3 v2.6 M245.61 90.3 v2.2 M247.19 90.3 v2.2 M248.32 90.3 v2.2 M249.19 90.3 v2.2 M249.90 90.3 v2.2 M250.51 90.3 v2.2 M251.03 90.3 v2.2 M251.49 90.3 v2.2 M255.45 90.3 v2.2 M257.53 90.3 v2.2 M259.00 90.3 v2.2 M260.15 90.3 v2.2 M261.08 90.3 v2.2 M261.87 90.3 v2.2 M262.56 90.3 v2.2 M263.16 90.3 v2.2 M267.15 90.3 v2.2 M269.23 90.3 v2.2 M270.70 90.3 v2.2 M271.85 90.3 v2.2 M272.78 90.3 v2.2 M273.57 90.3 v2.2 M274.26 90.3 v2.2 M274.86 90.3 v2.2 M278.95 90.3 v2.2 M281.03 90.3 v2.2 M231.0 90.3 v1.6 M232.6 90.3 v1.6" stroke="#000" stroke-width="0.75" fill="none"/>
<path d="M235.2 90.3 h6 l-0.5 2.6 h-1 l-0.6 -1 l-0.8 1.4 l-0.8 -1.2 l-0.8 1.3 l-1 -1.2z" fill="#000"/>
<text x="225" y="84.3" font-size="6.4" fill="#1a1a1a" text-anchor="end" stroke="#222" stroke-width="0.13">0</text>
<text x="222.0" y="69.5" font-size="6.4" fill="#1a1a1a" text-anchor="end" textLength="6.0" lengthAdjust="spacingAndGlyphs" stroke="#222" stroke-width="0.13">10</text>
<text x="223.0" y="66.60000000000001" font-size="4.1" fill="#1a1a1a" text-anchor="middle" stroke="#222" stroke-width="0.06">3</text>
<text x="222.0" y="57.199999999999996" font-size="6.4" fill="#1a1a1a" text-anchor="end" textLength="6.0" lengthAdjust="spacingAndGlyphs" stroke="#222" stroke-width="0.13">10</text>
<text x="223.0" y="54.3" font-size="4.1" fill="#1a1a1a" text-anchor="middle" stroke="#222" stroke-width="0.06">4</text>
<text x="222.0" y="45.199999999999996" font-size="6.4" fill="#1a1a1a" text-anchor="end" textLength="6.0" lengthAdjust="spacingAndGlyphs" stroke="#222" stroke-width="0.13">10</text>
<text x="223.0" y="42.3" font-size="4.1" fill="#1a1a1a" text-anchor="middle" stroke="#222" stroke-width="0.06">5</text>
<path d="M227 82.0 h3 M227 67.2 h3 M227 54.9 h3 M227 42.9 h3 M228.5 79.0 h1.5 M228.5 77.0 h1.5 M228.5 75.0 h1.5 M228.5 84.0 h1.5 M228.5 86.0 h1.5 M228.5 63.5 h1.5 M228.5 61.3 h1.5 M228.5 59.9 h1.5 M228.5 58.7 h1.5 M228.5 57.7 h1.5 M228.5 56.8 h1.5 M228.5 56.2 h1.5 M228.5 55.6 h1.5 M228.5 51.2 h1.5 M228.5 49.0 h1.5 M228.5 47.6 h1.5 M228.5 46.4 h1.5 M228.5 45.4 h1.5 M228.5 44.5 h1.5 M228.5 43.9 h1.5 M228.5 43.3 h1.5 M228.5 39.2 h1.5" stroke="#111" stroke-width="0.7"/>
<path d="M230 78 v7 l-2 -1 l1 -1.5 l-1.5 -1 l1.2 -1.2 l-1.2 -1.3z" fill="#111"/>
<rect x="42.5" y="136.7" width="52.5" height="52.20000000000002" fill="white" stroke="#4a4a4a" stroke-width="1"/>
<g fill="#bbb"><circle cx="72.2" cy="178.6" r="0.3"/><circle cx="84.7" cy="178.3" r="0.3"/><circle cx="81.3" cy="169.2" r="0.3"/><circle cx="60.9" cy="171.9" r="0.3"/><circle cx="78.8" cy="182.5" r="0.3"/><circle cx="61.8" cy="176.5" r="0.3"/><circle cx="65.5" cy="171.3" r="0.3"/><circle cx="71.2" cy="178.5" r="0.3"/><circle cx="76.1" cy="180.9" r="0.3"/><circle cx="64.1" cy="179.4" r="0.3"/><circle cx="83.3" cy="175.3" r="0.3"/><circle cx="78.8" cy="172.2" r="0.3"/><circle cx="63.1" cy="173.0" r="0.3"/><circle cx="69.1" cy="183.3" r="0.3"/><circle cx="76.0" cy="176.6" r="0.3"/><circle cx="81.4" cy="171.1" r="0.3"/><circle cx="83.2" cy="176.9" r="0.3"/><circle cx="58.8" cy="178.0" r="0.3"/><circle cx="79.5" cy="177.3" r="0.3"/><circle cx="89.8" cy="172.9" r="0.3"/><circle cx="79.1" cy="178.7" r="0.3"/><circle cx="65.0" cy="181.0" r="0.3"/><circle cx="59.5" cy="168.5" r="0.3"/><circle cx="79.2" cy="169.6" r="0.3"/><circle cx="72.8" cy="166.8" r="0.3"/><circle cx="74.7" cy="169.3" r="0.3"/><circle cx="77.4" cy="167.3" r="0.3"/><circle cx="78.5" cy="173.7" r="0.3"/><circle cx="74.6" cy="174.7" r="0.3"/><circle cx="75.3" cy="168.4" r="0.3"/><circle cx="48.4" cy="175.2" r="0.3"/><circle cx="64.6" cy="172.7" r="0.3"/><circle cx="78.3" cy="165.1" r="0.3"/><circle cx="66.4" cy="171.9" r="0.3"/><circle cx="63.4" cy="176.6" r="0.3"/><circle cx="72.6" cy="170.9" r="0.3"/><circle cx="64.2" cy="179.0" r="0.3"/><circle cx="67.4" cy="177.9" r="0.3"/><circle cx="78.5" cy="165.5" r="0.3"/><circle cx="63.2" cy="175.0" r="0.3"/><circle cx="77.4" cy="178.9" r="0.3"/><circle cx="82.0" cy="180.2" r="0.3"/><circle cx="70.3" cy="173.9" r="0.3"/><circle cx="81.8" cy="172.9" r="0.3"/></g>
<g fill="#888"><circle cx="52.4" cy="170.7" r="0.3"/><circle cx="53.6" cy="167.4" r="0.3"/><circle cx="48.3" cy="171.0" r="0.3"/><circle cx="44.1" cy="166.5" r="0.3"/><circle cx="49.6" cy="168.9" r="0.3"/><circle cx="53.2" cy="170.3" r="0.3"/><circle cx="49.4" cy="171.5" r="0.3"/><circle cx="49.2" cy="169.0" r="0.3"/><circle cx="50.9" cy="168.3" r="0.3"/><circle cx="47.6" cy="169.4" r="0.3"/><circle cx="47.5" cy="171.2" r="0.3"/><circle cx="50.8" cy="169.0" r="0.3"/><circle cx="45.0" cy="168.2" r="0.3"/><circle cx="48.0" cy="169.2" r="0.3"/><circle cx="49.7" cy="170.9" r="0.3"/><circle cx="53.6" cy="168.8" r="0.3"/><circle cx="48.4" cy="169.5" r="0.3"/><circle cx="54.0" cy="168.1" r="0.3"/><circle cx="49.3" cy="170.5" r="0.3"/><circle cx="45.7" cy="168.0" r="0.3"/><circle cx="53.8" cy="170.6" r="0.3"/><circle cx="49.1" cy="166.9" r="0.3"/><circle cx="52.9" cy="169.9" r="0.3"/><circle cx="52.2" cy="171.4" r="0.3"/><circle cx="52.9" cy="168.5" r="0.3"/><circle cx="45.6" cy="167.8" r="0.3"/><circle cx="49.1" cy="168.9" r="0.3"/><circle cx="45.9" cy="167.2" r="0.3"/><circle cx="50.3" cy="169.4" r="0.3"/><circle cx="47.5" cy="171.5" r="0.3"/><circle cx="50.4" cy="166.5" r="0.3"/><circle cx="48.1" cy="170.4" r="0.3"/><circle cx="47.1" cy="169.9" r="0.3"/><circle cx="44.0" cy="167.9" r="0.3"/><circle cx="52.4" cy="169.3" r="0.3"/><circle cx="50.7" cy="167.3" r="0.3"/><circle cx="49.0" cy="169.2" r="0.3"/><circle cx="46.7" cy="169.7" r="0.3"/><circle cx="49.3" cy="171.5" r="0.3"/><circle cx="49.7" cy="168.4" r="0.3"/><circle cx="45.2" cy="167.1" r="0.3"/><circle cx="51.6" cy="166.9" r="0.3"/><circle cx="45.0" cy="167.2" r="0.3"/><circle cx="49.2" cy="170.6" r="0.3"/><circle cx="50.1" cy="170.5" r="0.3"/></g>
<g transform="translate(48.8 176.9) rotate(0)"><g fill="#888"><circle cx="4.54" cy="2.25" r="0.32"/><circle cx="0.66" cy="-6.13" r="0.32"/><circle cx="-1.11" cy="-6.07" r="0.32"/><circle cx="2.47" cy="5.37" r="0.32"/><circle cx="4.51" cy="3.92" r="0.32"/><circle cx="-4.48" cy="-3.07" r="0.32"/><circle cx="-4.93" cy="1.93" r="0.32"/><circle cx="5.23" cy="2.25" r="0.32"/><circle cx="-4.87" cy="-3.35" r="0.32"/><circle cx="-4.98" cy="2.39" r="0.32"/><circle cx="0.02" cy="5.94" r="0.32"/><circle cx="5.01" cy="-2.80" r="0.32"/><circle cx="-2.20" cy="6.15" r="0.32"/><circle cx="2.06" cy="-5.65" r="0.32"/><circle cx="-4.48" cy="-4.05" r="0.32"/><circle cx="-5.60" cy="0.19" r="0.32"/><circle cx="0.23" cy="6.24" r="0.32"/><circle cx="-1.00" cy="-5.98" r="0.32"/><circle cx="-2.01" cy="6.22" r="0.32"/><circle cx="-5.46" cy="0.65" r="0.32"/><circle cx="0.21" cy="6.05" r="0.32"/><circle cx="-3.17" cy="4.71" r="0.32"/><circle cx="5.03" cy="-1.09" r="0.32"/><circle cx="-4.62" cy="-2.26" r="0.32"/><circle cx="-5.07" cy="-1.31" r="0.32"/><circle cx="-4.06" cy="3.40" r="0.32"/><circle cx="3.94" cy="4.64" r="0.32"/><circle cx="-3.02" cy="4.92" r="0.32"/><circle cx="1.84" cy="5.74" r="0.32"/><circle cx="0.40" cy="5.91" r="0.32"/><circle cx="-2.64" cy="-5.32" r="0.32"/><circle cx="3.02" cy="5.42" r="0.32"/><circle cx="4.26" cy="3.37" r="0.32"/><circle cx="2.54" cy="-5.18" r="0.32"/><circle cx="-5.17" cy="2.32" r="0.32"/><circle cx="1.70" cy="-5.68" r="0.32"/><circle cx="-3.27" cy="5.22" r="0.32"/><circle cx="-4.01" cy="4.71" r="0.32"/><circle cx="1.46" cy="6.51" r="0.32"/><circle cx="-5.06" cy="-0.19" r="0.32"/></g><g filter="url(#bl)"><ellipse rx="4.90" ry="5.90" fill="#a8a8a8" stroke="#505050" stroke-width="0.9"/><ellipse rx="3.92" ry="4.72" fill="#c0c0c0" stroke="#747474" stroke-width="0.5"/><ellipse rx="2.94" ry="3.54" fill="#d0d0d0" stroke="#888" stroke-width="0.5"/><ellipse rx="1.96" ry="2.36" fill="#e0e0e0" stroke="#9a9a9a" stroke-width="0.4"/><ellipse rx="0.98" ry="1.18" fill="#f0f0f0"/><ellipse rx="0.39" ry="0.47" fill="#666"/></g></g>
<rect x="42.5" y="136.7" width="13.700000000000003" height="52.20000000000002" fill="none" stroke="#111" stroke-width="1.3"/>
<rect x="56.8" y="136.7" width="38.2" height="52.20000000000002" fill="none" stroke="#6db146" stroke-width="1.3"/>
<text x="83.2" y="184.9" font-size="4.2" fill="#333" textLength="8.6" lengthAdjust="spacingAndGlyphs" stroke="#333" stroke-width="0.1">ETPs</text>
<text x="51.3" y="199.9" font-size="6.4" fill="#1a1a1a" text-anchor="middle" stroke="#222" stroke-width="0.13">0</text>
<text x="63.9" y="199.9" font-size="6.4" fill="#1a1a1a" text-anchor="middle" textLength="5.9" lengthAdjust="spacingAndGlyphs" stroke="#222" stroke-width="0.13">10</text>
<text x="67.7" y="197.6" font-size="4.1" fill="#1a1a1a" text-anchor="middle" stroke="#222" stroke-width="0.06">3</text>
<text x="76.3" y="199.9" font-size="6.4" fill="#1a1a1a" text-anchor="middle" textLength="5.9" lengthAdjust="spacingAndGlyphs" stroke="#222" stroke-width="0.13">10</text>
<text x="80.10000000000001" y="197.6" font-size="4.1" fill="#1a1a1a" text-anchor="middle" stroke="#222" stroke-width="0.06">4</text>
<text x="88.3" y="199.9" font-size="6.4" fill="#1a1a1a" text-anchor="middle" textLength="5.9" lengthAdjust="spacingAndGlyphs" stroke="#222" stroke-width="0.13">10</text>
<text x="92.10000000000001" y="197.6" font-size="4.1" fill="#1a1a1a" text-anchor="middle" stroke="#222" stroke-width="0.06">5</text>
<path d="M64.4 188.9 v2.6 M76.2 188.9 v2.6 M87.9 188.9 v2.6 M58.11 188.9 v2.2 M59.69 188.9 v2.2 M60.82 188.9 v2.2 M61.69 188.9 v2.2 M62.40 188.9 v2.2 M63.01 188.9 v2.2 M63.53 188.9 v2.2 M63.99 188.9 v2.2 M67.95 188.9 v2.2 M70.03 188.9 v2.2 M71.50 188.9 v2.2 M72.65 188.9 v2.2 M73.58 188.9 v2.2 M74.37 188.9 v2.2 M75.06 188.9 v2.2 M75.66 188.9 v2.2 M79.65 188.9 v2.2 M81.73 188.9 v2.2 M83.20 188.9 v2.2 M84.35 188.9 v2.2 M85.28 188.9 v2.2 M86.07 188.9 v2.2 M86.76 188.9 v2.2 M87.36 188.9 v2.2 M91.45 188.9 v2.2 M93.53 188.9 v2.2 M43.5 188.9 v1.6 M45.1 188.9 v1.6" stroke="#000" stroke-width="0.75" fill="none"/>
<path d="M47.7 188.9 h6 l-0.5 2.6 h-1 l-0.6 -1 l-0.8 1.4 l-0.8 -1.2 l-0.8 1.3 l-1 -1.2z" fill="#000"/>
<text x="37.0" y="191.1" font-size="6.8" fill="#262626" text-anchor="end" textLength="3.4" lengthAdjust="spacingAndGlyphs" stroke="#262626" stroke-width="0.03">0</text>
<line x1="39.5" y1="188.5" x2="42.5" y2="188.5" stroke="#222" stroke-width="0.6"/>
<text x="37.0" y="181.2" font-size="6.8" fill="#262626" text-anchor="end" textLength="10.8" lengthAdjust="spacingAndGlyphs" stroke="#262626" stroke-width="0.03">50K</text>
<line x1="39.5" y1="178.6" x2="42.5" y2="178.6" stroke="#222" stroke-width="0.6"/>
<text x="37.0" y="171.29999999999998" font-size="6.8" fill="#262626" text-anchor="end" textLength="14.2" lengthAdjust="spacingAndGlyphs" stroke="#262626" stroke-width="0.03">100K</text>
<line x1="39.5" y1="168.7" x2="42.5" y2="168.7" stroke="#222" stroke-width="0.6"/>
<text x="37.0" y="161.4" font-size="6.8" fill="#262626" text-anchor="end" textLength="14.2" lengthAdjust="spacingAndGlyphs" stroke="#262626" stroke-width="0.03">150K</text>
<line x1="39.5" y1="158.8" x2="42.5" y2="158.8" stroke="#222" stroke-width="0.6"/>
<text x="37.0" y="151.5" font-size="6.8" fill="#262626" text-anchor="end" textLength="14.2" lengthAdjust="spacingAndGlyphs" stroke="#262626" stroke-width="0.03">200K</text>
<line x1="39.5" y1="148.9" x2="42.5" y2="148.9" stroke="#222" stroke-width="0.6"/>
<text x="37.0" y="141.6" font-size="6.8" fill="#262626" text-anchor="end" textLength="14.2" lengthAdjust="spacingAndGlyphs" stroke="#262626" stroke-width="0.03">250K</text>
<line x1="39.5" y1="139.0" x2="42.5" y2="139.0" stroke="#222" stroke-width="0.6"/>
<path d="M40.9 188.5 h1.6 M40.9 186.5 h1.6 M40.9 184.5 h1.6 M40.9 182.6 h1.6 M40.9 180.6 h1.6 M40.9 178.6 h1.6 M40.9 176.6 h1.6 M40.9 174.6 h1.6 M40.9 172.7 h1.6 M40.9 170.7 h1.6 M40.9 168.7 h1.6 M40.9 166.7 h1.6 M40.9 164.7 h1.6 M40.9 162.8 h1.6 M40.9 160.8 h1.6 M40.9 158.8 h1.6 M40.9 156.8 h1.6 M40.9 154.8 h1.6 M40.9 152.9 h1.6 M40.9 150.9 h1.6 M40.9 148.9 h1.6 M40.9 146.9 h1.6 M40.9 144.9 h1.6 M40.9 143.0 h1.6 M40.9 141.0 h1.6 M40.9 139.0 h1.6" stroke="#000" stroke-width="0.85"/>
<rect x="136.6" y="136.7" width="52.400000000000006" height="52.20000000000002" fill="white" stroke="#4a4a4a" stroke-width="1"/>
<g fill="#999"><circle cx="148.2" cy="158.9" r="0.3"/><circle cx="149.6" cy="153.9" r="0.3"/><circle cx="155.3" cy="153.7" r="0.3"/><circle cx="148.2" cy="161.1" r="0.3"/><circle cx="148.1" cy="155.6" r="0.3"/><circle cx="152.1" cy="156.0" r="0.3"/><circle cx="144.9" cy="157.4" r="0.3"/><circle cx="149.5" cy="167.4" r="0.3"/><circle cx="145.6" cy="163.3" r="0.3"/><circle cx="147.0" cy="156.0" r="0.3"/><circle cx="149.0" cy="159.5" r="0.3"/><circle cx="154.4" cy="167.6" r="0.3"/><circle cx="147.6" cy="165.3" r="0.3"/><circle cx="155.0" cy="162.5" r="0.3"/><circle cx="147.1" cy="163.0" r="0.3"/><circle cx="150.0" cy="159.9" r="0.3"/><circle cx="149.3" cy="161.7" r="0.3"/><circle cx="155.5" cy="164.2" r="0.3"/><circle cx="149.6" cy="163.5" r="0.3"/><circle cx="157.0" cy="152.9" r="0.3"/><circle cx="157.1" cy="150.7" r="0.3"/><circle cx="152.9" cy="161.3" r="0.3"/><circle cx="157.2" cy="159.5" r="0.3"/><circle cx="148.3" cy="153.6" r="0.3"/><circle cx="144.9" cy="162.2" r="0.3"/><circle cx="149.4" cy="154.1" r="0.3"/><circle cx="152.9" cy="153.8" r="0.3"/><circle cx="148.5" cy="155.5" r="0.3"/><circle cx="157.9" cy="166.0" r="0.3"/><circle cx="149.8" cy="149.4" r="0.3"/><circle cx="151.7" cy="158.4" r="0.3"/><circle cx="152.1" cy="161.1" r="0.3"/><circle cx="149.1" cy="163.1" r="0.3"/><circle cx="154.3" cy="159.2" r="0.3"/><circle cx="148.7" cy="155.4" r="0.3"/><circle cx="153.6" cy="152.0" r="0.3"/><circle cx="149.8" cy="153.9" r="0.3"/><circle cx="144.2" cy="161.3" r="0.3"/><circle cx="150.4" cy="158.2" r="0.3"/><circle cx="154.4" cy="149.8" r="0.3"/><circle cx="150.2" cy="159.6" r="0.3"/><circle cx="154.2" cy="152.0" r="0.3"/><circle cx="153.7" cy="159.2" r="0.3"/><circle cx="156.6" cy="164.3" r="0.3"/><circle cx="153.0" cy="169.8" r="0.3"/><circle cx="150.5" cy="155.7" r="0.3"/><circle cx="149.0" cy="152.8" r="0.3"/><circle cx="150.4" cy="147.7" r="0.3"/><circle cx="150.1" cy="160.3" r="0.3"/><circle cx="155.0" cy="156.1" r="0.3"/><circle cx="156.7" cy="154.4" r="0.3"/><circle cx="149.9" cy="147.7" r="0.3"/><circle cx="147.1" cy="153.6" r="0.3"/><circle cx="157.1" cy="160.8" r="0.3"/><circle cx="145.6" cy="160.9" r="0.3"/><circle cx="152.6" cy="156.7" r="0.3"/><circle cx="150.6" cy="156.4" r="0.3"/><circle cx="148.1" cy="148.5" r="0.3"/><circle cx="150.1" cy="164.9" r="0.3"/><circle cx="156.8" cy="156.5" r="0.3"/><circle cx="147.2" cy="156.9" r="0.3"/><circle cx="154.4" cy="159.9" r="0.3"/><circle cx="147.9" cy="159.9" r="0.3"/><circle cx="149.6" cy="160.8" r="0.3"/><circle cx="148.7" cy="150.1" r="0.3"/><circle cx="150.8" cy="162.1" r="0.3"/><circle cx="145.6" cy="157.4" r="0.3"/><circle cx="154.4" cy="156.0" r="0.3"/><circle cx="147.6" cy="168.9" r="0.3"/><circle cx="154.1" cy="163.5" r="0.3"/><circle cx="146.4" cy="166.7" r="0.3"/><circle cx="143.2" cy="155.2" r="0.3"/><circle cx="153.7" cy="165.1" r="0.3"/><circle cx="146.4" cy="154.4" r="0.3"/><circle cx="151.4" cy="147.7" r="0.3"/><circle cx="153.3" cy="161.0" r="0.3"/><circle cx="148.5" cy="160.9" r="0.3"/><circle cx="153.9" cy="159.7" r="0.3"/><circle cx="152.8" cy="166.1" r="0.3"/><circle cx="148.4" cy="158.9" r="0.3"/><circle cx="148.2" cy="163.5" r="0.3"/><circle cx="148.7" cy="160.5" r="0.3"/><circle cx="151.1" cy="158.4" r="0.3"/><circle cx="158.0" cy="157.5" r="0.3"/><circle cx="156.7" cy="162.4" r="0.3"/><circle cx="156.3" cy="157.1" r="0.3"/><circle cx="154.5" cy="162.0" r="0.3"/><circle cx="147.8" cy="159.4" r="0.3"/><circle cx="149.9" cy="157.8" r="0.3"/><circle cx="156.2" cy="154.2" r="0.3"/><circle cx="143.2" cy="148.7" r="0.3"/><circle cx="148.5" cy="154.6" r="0.3"/><circle cx="150.6" cy="161.0" r="0.3"/><circle cx="158.1" cy="159.6" r="0.3"/><circle cx="152.5" cy="154.1" r="0.3"/><circle cx="153.0" cy="165.2" r="0.3"/><circle cx="156.3" cy="147.6" r="0.3"/><circle cx="154.4" cy="166.4" r="0.3"/><circle cx="154.1" cy="150.1" r="0.3"/><circle cx="149.2" cy="161.1" r="0.3"/><circle cx="152.3" cy="153.7" r="0.3"/><circle cx="146.6" cy="163.1" r="0.3"/><circle cx="144.7" cy="165.6" r="0.3"/><circle cx="150.6" cy="159.6" r="0.3"/><circle cx="144.7" cy="154.8" r="0.3"/><circle cx="153.5" cy="150.2" r="0.3"/><circle cx="159.5" cy="150.6" r="0.3"/><circle cx="145.2" cy="158.2" r="0.3"/><circle cx="152.6" cy="161.9" r="0.3"/><circle cx="148.9" cy="156.9" r="0.3"/><circle cx="149.5" cy="155.0" r="0.3"/><circle cx="139.3" cy="163.1" r="0.3"/><circle cx="151.6" cy="158.8" r="0.3"/><circle cx="147.8" cy="159.3" r="0.3"/><circle cx="150.4" cy="157.6" r="0.3"/><circle cx="155.3" cy="148.9" r="0.3"/><circle cx="151.6" cy="152.4" r="0.3"/><circle cx="149.1" cy="165.9" r="0.3"/><circle cx="145.8" cy="157.5" r="0.3"/><circle cx="147.9" cy="163.0" r="0.3"/><circle cx="146.3" cy="149.1" r="0.3"/><circle cx="152.7" cy="156.1" r="0.3"/><circle cx="149.1" cy="163.7" r="0.3"/><circle cx="146.7" cy="156.0" r="0.3"/><circle cx="151.1" cy="160.2" r="0.3"/><circle cx="148.3" cy="163.5" r="0.3"/><circle cx="160.2" cy="155.8" r="0.3"/><circle cx="158.6" cy="146.9" r="0.3"/><circle cx="156.6" cy="156.2" r="0.3"/><circle cx="151.1" cy="156.2" r="0.3"/><circle cx="147.7" cy="151.3" r="0.3"/><circle cx="148.8" cy="164.8" r="0.3"/><circle cx="155.4" cy="156.2" r="0.3"/><circle cx="148.2" cy="154.3" r="0.3"/><circle cx="145.3" cy="167.5" r="0.3"/><circle cx="153.4" cy="158.6" r="0.3"/><circle cx="148.4" cy="152.6" r="0.3"/><circle cx="156.2" cy="162.1" r="0.3"/><circle cx="146.4" cy="163.2" r="0.3"/><circle cx="145.7" cy="161.4" r="0.3"/><circle cx="146.3" cy="155.8" r="0.3"/><circle cx="152.6" cy="160.3" r="0.3"/><circle cx="154.9" cy="153.6" r="0.3"/><circle cx="157.3" cy="165.1" r="0.3"/><circle cx="150.5" cy="160.5" r="0.3"/><circle cx="147.1" cy="157.2" r="0.3"/><circle cx="144.8" cy="158.5" r="0.3"/><circle cx="151.4" cy="165.1" r="0.3"/><circle cx="154.6" cy="162.3" r="0.3"/><circle cx="148.9" cy="156.8" r="0.3"/></g>
<g fill="#aaa"><circle cx="156.0" cy="166.9" r="0.3"/><circle cx="146.9" cy="169.0" r="0.3"/><circle cx="149.0" cy="164.0" r="0.3"/><circle cx="158.1" cy="164.0" r="0.3"/><circle cx="167.6" cy="165.6" r="0.3"/><circle cx="167.1" cy="170.5" r="0.3"/><circle cx="155.1" cy="167.5" r="0.3"/><circle cx="165.5" cy="164.7" r="0.3"/><circle cx="158.5" cy="163.9" r="0.3"/><circle cx="158.3" cy="164.6" r="0.3"/><circle cx="158.5" cy="169.8" r="0.3"/><circle cx="166.0" cy="166.5" r="0.3"/><circle cx="159.2" cy="169.3" r="0.3"/><circle cx="156.3" cy="161.9" r="0.3"/><circle cx="164.4" cy="162.4" r="0.3"/><circle cx="163.4" cy="162.3" r="0.3"/><circle cx="168.5" cy="162.0" r="0.3"/><circle cx="162.9" cy="171.8" r="0.3"/><circle cx="152.5" cy="171.7" r="0.3"/><circle cx="153.3" cy="159.2" r="0.3"/><circle cx="162.2" cy="168.7" r="0.3"/><circle cx="156.8" cy="156.3" r="0.3"/><circle cx="157.7" cy="164.8" r="0.3"/><circle cx="155.8" cy="164.9" r="0.3"/><circle cx="147.7" cy="163.8" r="0.3"/><circle cx="168.4" cy="171.9" r="0.3"/><circle cx="155.9" cy="163.3" r="0.3"/><circle cx="160.3" cy="170.1" r="0.3"/><circle cx="162.2" cy="161.5" r="0.3"/><circle cx="158.9" cy="166.5" r="0.3"/><circle cx="166.3" cy="170.6" r="0.3"/><circle cx="161.0" cy="170.7" r="0.3"/><circle cx="155.7" cy="171.9" r="0.3"/><circle cx="155.5" cy="167.5" r="0.3"/><circle cx="163.3" cy="162.5" r="0.3"/><circle cx="154.0" cy="159.2" r="0.3"/><circle cx="158.9" cy="165.8" r="0.3"/><circle cx="156.1" cy="167.9" r="0.3"/><circle cx="145.8" cy="165.9" r="0.3"/><circle cx="158.5" cy="165.0" r="0.3"/></g>
<g fill="#bbb"><circle cx="146.2" cy="179.4" r="0.3"/><circle cx="172.2" cy="157.2" r="0.3"/><circle cx="161.5" cy="145.0" r="0.3"/><circle cx="180.9" cy="157.2" r="0.3"/><circle cx="182.3" cy="168.6" r="0.3"/><circle cx="140.6" cy="153.9" r="0.3"/><circle cx="147.9" cy="183.4" r="0.3"/><circle cx="167.5" cy="139.0" r="0.3"/><circle cx="145.5" cy="155.5" r="0.3"/><circle cx="161.1" cy="166.8" r="0.3"/><circle cx="156.9" cy="155.2" r="0.3"/><circle cx="136.9" cy="166.9" r="0.3"/><circle cx="154.1" cy="137.8" r="0.3"/><circle cx="160.7" cy="188.2" r="0.3"/><circle cx="139.0" cy="144.3" r="0.3"/><circle cx="171.8" cy="150.9" r="0.3"/><circle cx="150.9" cy="162.8" r="0.3"/><circle cx="150.3" cy="166.4" r="0.3"/><circle cx="164.3" cy="186.7" r="0.3"/><circle cx="188.6" cy="138.5" r="0.3"/><circle cx="166.0" cy="176.9" r="0.3"/><circle cx="182.3" cy="177.1" r="0.3"/><circle cx="169.8" cy="169.8" r="0.3"/><circle cx="155.6" cy="151.4" r="0.3"/><circle cx="178.3" cy="182.3" r="0.3"/></g>
<g filter="url(#bl)" fill="none"><g transform="translate(150.6 157.5) rotate(-42)"><ellipse rx="4.0" ry="6.0" stroke="#cdcdcd" stroke-width="2.2" fill="#fafafa"/><ellipse rx="4.0" ry="6.0" stroke="#8e8e8e" stroke-width="0.75"/></g>
<path d="M153.6 163 Q152.5 166.5 150.6 170.5" stroke="#a8a8a8" stroke-width="1.2"/><path d="M154.6 162.5 Q155.6 165.5 156 169" stroke="#b8b8b8" stroke-width="1.0"/></g>
<g fill="#999"><circle cx="162.4" cy="176.7" r="0.3"/><circle cx="150.6" cy="181.0" r="0.3"/><circle cx="153.5" cy="175.4" r="0.3"/><circle cx="150.3" cy="176.4" r="0.3"/><circle cx="148.2" cy="177.2" r="0.3"/><circle cx="159.1" cy="178.5" r="0.3"/><circle cx="146.0" cy="183.2" r="0.3"/><circle cx="148.3" cy="178.0" r="0.3"/><circle cx="154.2" cy="179.3" r="0.3"/><circle cx="152.1" cy="178.7" r="0.3"/><circle cx="166.1" cy="178.0" r="0.3"/><circle cx="147.8" cy="178.4" r="0.3"/><circle cx="149.4" cy="177.1" r="0.3"/><circle cx="155.1" cy="178.4" r="0.3"/><circle cx="152.4" cy="179.4" r="0.3"/><circle cx="152.9" cy="175.3" r="0.3"/><circle cx="159.1" cy="177.1" r="0.3"/><circle cx="161.0" cy="176.5" r="0.3"/><circle cx="157.3" cy="178.4" r="0.3"/><circle cx="138.5" cy="174.9" r="0.3"/><circle cx="147.6" cy="180.5" r="0.3"/><circle cx="143.1" cy="179.6" r="0.3"/><circle cx="160.3" cy="178.8" r="0.3"/><circle cx="157.9" cy="176.8" r="0.3"/><circle cx="153.9" cy="178.2" r="0.3"/><circle cx="156.4" cy="179.2" r="0.3"/><circle cx="152.8" cy="176.5" r="0.3"/><circle cx="150.8" cy="178.6" r="0.3"/><circle cx="144.4" cy="175.4" r="0.3"/><circle cx="151.6" cy="176.7" r="0.3"/><circle cx="152.0" cy="177.3" r="0.3"/><circle cx="158.5" cy="174.0" r="0.3"/><circle cx="152.2" cy="178.7" r="0.3"/><circle cx="156.8" cy="180.1" r="0.3"/><circle cx="160.1" cy="175.8" r="0.3"/><circle cx="157.7" cy="177.2" r="0.3"/><circle cx="149.4" cy="180.7" r="0.3"/><circle cx="150.4" cy="176.2" r="0.3"/><circle cx="151.6" cy="176.2" r="0.3"/><circle cx="159.8" cy="178.5" r="0.3"/><circle cx="162.1" cy="178.6" r="0.3"/><circle cx="150.5" cy="179.8" r="0.3"/><circle cx="150.2" cy="176.9" r="0.3"/><circle cx="153.0" cy="177.9" r="0.3"/><circle cx="160.9" cy="176.6" r="0.3"/><circle cx="156.0" cy="177.7" r="0.3"/><circle cx="146.7" cy="175.7" r="0.3"/><circle cx="152.7" cy="178.6" r="0.3"/><circle cx="155.9" cy="178.7" r="0.3"/><circle cx="154.3" cy="176.9" r="0.3"/><circle cx="156.5" cy="175.9" r="0.3"/><circle cx="146.2" cy="177.2" r="0.3"/><circle cx="145.7" cy="176.8" r="0.3"/><circle cx="149.7" cy="176.7" r="0.3"/><circle cx="153.7" cy="176.3" r="0.3"/><circle cx="151.6" cy="174.5" r="0.3"/><circle cx="154.8" cy="176.1" r="0.3"/><circle cx="149.4" cy="178.3" r="0.3"/></g>
<g transform="translate(153.3 177.7) rotate(0)"><g fill="#999"><circle cx="-5.44" cy="-0.54" r="0.32"/><circle cx="2.77" cy="2.04" r="0.32"/><circle cx="-5.01" cy="0.52" r="0.32"/><circle cx="0.70" cy="-3.09" r="0.32"/><circle cx="4.42" cy="-0.20" r="0.32"/><circle cx="0.17" cy="-2.84" r="0.32"/><circle cx="4.22" cy="0.51" r="0.32"/><circle cx="4.50" cy="1.20" r="0.32"/><circle cx="-4.10" cy="-1.00" r="0.32"/><circle cx="4.31" cy="-1.16" r="0.32"/><circle cx="2.57" cy="2.37" r="0.32"/><circle cx="-0.42" cy="-3.68" r="0.32"/><circle cx="2.17" cy="2.37" r="0.32"/><circle cx="0.78" cy="-2.95" r="0.32"/><circle cx="4.81" cy="-0.36" r="0.32"/><circle cx="-3.02" cy="-2.34" r="0.32"/><circle cx="1.49" cy="-3.06" r="0.32"/><circle cx="-2.44" cy="3.28" r="0.32"/><circle cx="4.04" cy="2.19" r="0.32"/><circle cx="4.63" cy="1.36" r="0.32"/><circle cx="-4.39" cy="2.10" r="0.32"/><circle cx="4.59" cy="1.22" r="0.32"/><circle cx="-4.62" cy="1.98" r="0.32"/><circle cx="4.73" cy="-1.15" r="0.32"/><circle cx="0.72" cy="2.97" r="0.32"/><circle cx="-0.37" cy="3.19" r="0.32"/><circle cx="0.51" cy="2.94" r="0.32"/><circle cx="0.29" cy="-3.40" r="0.32"/><circle cx="-1.67" cy="3.59" r="0.32"/><circle cx="1.03" cy="3.26" r="0.32"/></g><g filter="url(#bl)"><ellipse rx="4.30" ry="2.90" fill="#c8c8c8" stroke="#8a8a8a" stroke-width="0.6"/><ellipse rx="2.79" ry="1.89" fill="#dadada" stroke="#a0a0a0" stroke-width="0.5"/><ellipse rx="1.29" ry="0.87" fill="#eeeeee"/></g></g>
<g transform="translate(144.1 177.7) rotate(0)"><g fill="#888"><circle cx="2.45" cy="3.40" r="0.32"/><circle cx="2.63" cy="-2.61" r="0.32"/><circle cx="0.04" cy="-4.04" r="0.32"/><circle cx="-0.80" cy="3.54" r="0.32"/><circle cx="-4.44" cy="0.37" r="0.32"/><circle cx="2.25" cy="3.33" r="0.32"/><circle cx="-3.30" cy="-2.14" r="0.32"/><circle cx="-3.91" cy="-1.96" r="0.32"/><circle cx="1.11" cy="3.97" r="0.32"/><circle cx="-2.78" cy="3.08" r="0.32"/><circle cx="2.47" cy="-2.64" r="0.32"/><circle cx="2.99" cy="-3.17" r="0.32"/><circle cx="-1.07" cy="3.20" r="0.32"/><circle cx="3.47" cy="2.69" r="0.32"/><circle cx="4.47" cy="0.24" r="0.32"/><circle cx="2.52" cy="3.22" r="0.32"/><circle cx="3.08" cy="2.00" r="0.32"/><circle cx="-1.52" cy="-3.10" r="0.32"/><circle cx="-2.39" cy="3.49" r="0.32"/><circle cx="-0.93" cy="-4.01" r="0.32"/><circle cx="3.61" cy="-0.43" r="0.32"/><circle cx="0.42" cy="4.00" r="0.32"/><circle cx="-1.35" cy="-3.12" r="0.32"/><circle cx="-3.83" cy="-0.11" r="0.32"/><circle cx="-3.36" cy="1.45" r="0.32"/></g><g filter="url(#bl)"><ellipse rx="3.80" ry="3.50" fill="#b4b4b4" stroke="#505050" stroke-width="0.9"/><ellipse rx="2.66" ry="2.45" fill="#cfcfcf" stroke="#777" stroke-width="0.6"/><ellipse rx="1.52" ry="1.40" fill="#e4e4e4"/><ellipse rx="0.57" ry="0.53" fill="#9a9a9a"/></g></g>
<rect x="136.6" y="136.7" width="52.400000000000006" height="36.30000000000001" fill="none" stroke="#2f6549" stroke-width="1.3"/>
<rect x="136.6" y="173.5" width="52.400000000000006" height="15.400000000000006" fill="none" stroke="#111" stroke-width="1.4"/>
<text x="169.1" y="142.6" font-size="4.0" fill="#222" textLength="16.8" lengthAdjust="spacingAndGlyphs" stroke="#222" stroke-width="0.1">PRE B/NK</text>
<text x="145.4" y="199.9" font-size="6.4" fill="#1a1a1a" text-anchor="middle" stroke="#222" stroke-width="0.13">0</text>
<text x="158.0" y="199.9" font-size="6.4" fill="#1a1a1a" text-anchor="middle" textLength="5.9" lengthAdjust="spacingAndGlyphs" stroke="#222" stroke-width="0.13">10</text>
<text x="161.8" y="197.6" font-size="4.1" fill="#1a1a1a" text-anchor="middle" stroke="#222" stroke-width="0.06">3</text>
<text x="170.4" y="199.9" font-size="6.4" fill="#1a1a1a" text-anchor="middle" textLength="5.9" lengthAdjust="spacingAndGlyphs" stroke="#222" stroke-width="0.13">10</text>
<text x="174.20000000000002" y="197.6" font-size="4.1" fill="#1a1a1a" text-anchor="middle" stroke="#222" stroke-width="0.06">4</text>
<text x="182.4" y="199.9" font-size="6.4" fill="#1a1a1a" text-anchor="middle" textLength="5.9" lengthAdjust="spacingAndGlyphs" stroke="#222" stroke-width="0.13">10</text>
<text x="186.20000000000002" y="197.6" font-size="4.1" fill="#1a1a1a" text-anchor="middle" stroke="#222" stroke-width="0.06">5</text>
<path d="M158.5 188.9 v2.6 M170.3 188.9 v2.6 M182.0 188.9 v2.6 M152.21 188.9 v2.2 M153.79 188.9 v2.2 M154.92 188.9 v2.2 M155.79 188.9 v2.2 M156.50 188.9 v2.2 M157.11 188.9 v2.2 M157.63 188.9 v2.2 M158.09 188.9 v2.2 M162.05 188.9 v2.2 M164.13 188.9 v2.2 M165.60 188.9 v2.2 M166.75 188.9 v2.2 M167.68 188.9 v2.2 M168.47 188.9 v2.2 M169.16 188.9 v2.2 M169.76 188.9 v2.2 M173.75 188.9 v2.2 M175.83 188.9 v2.2 M177.30 188.9 v2.2 M178.45 188.9 v2.2 M179.38 188.9 v2.2 M180.17 188.9 v2.2 M180.86 188.9 v2.2 M181.46 188.9 v2.2 M185.55 188.9 v2.2 M187.63 188.9 v2.2 M137.6 188.9 v1.6 M139.2 188.9 v1.6" stroke="#000" stroke-width="0.75" fill="none"/>
<path d="M141.79999999999998 188.9 h6 l-0.5 2.6 h-1 l-0.6 -1 l-0.8 1.4 l-0.8 -1.2 l-0.8 1.3 l-1 -1.2z" fill="#000"/>
<text x="131.6" y="183.0" font-size="6.4" fill="#1a1a1a" text-anchor="end" stroke="#222" stroke-width="0.13">0</text>
<text x="128.6" y="168.2" font-size="6.4" fill="#1a1a1a" text-anchor="end" textLength="6.0" lengthAdjust="spacingAndGlyphs" stroke="#222" stroke-width="0.13">10</text>
<text x="129.6" y="165.29999999999998" font-size="4.1" fill="#1a1a1a" text-anchor="middle" stroke="#222" stroke-width="0.06">3</text>
<text x="128.6" y="155.9" font-size="6.4" fill="#1a1a1a" text-anchor="end" textLength="6.0" lengthAdjust="spacingAndGlyphs" stroke="#222" stroke-width="0.13">10</text>
<text x="129.6" y="153.0" font-size="4.1" fill="#1a1a1a" text-anchor="middle" stroke="#222" stroke-width="0.06">4</text>
<text x="128.6" y="143.9" font-size="6.4" fill="#1a1a1a" text-anchor="end" textLength="6.0" lengthAdjust="spacingAndGlyphs" stroke="#222" stroke-width="0.13">10</text>
<text x="129.6" y="141.0" font-size="4.1" fill="#1a1a1a" text-anchor="middle" stroke="#222" stroke-width="0.06">5</text>
<path d="M133.6 180.7 h3 M133.6 165.9 h3 M133.6 153.6 h3 M133.6 141.6 h3 M135.1 177.7 h1.5 M135.1 175.7 h1.5 M135.1 173.7 h1.5 M135.1 182.7 h1.5 M135.1 184.7 h1.5 M135.1 162.2 h1.5 M135.1 160.0 h1.5 M135.1 158.6 h1.5 M135.1 157.4 h1.5 M135.1 156.4 h1.5 M135.1 155.5 h1.5 M135.1 154.9 h1.5 M135.1 154.3 h1.5 M135.1 149.9 h1.5 M135.1 147.7 h1.5 M135.1 146.3 h1.5 M135.1 145.1 h1.5 M135.1 144.1 h1.5 M135.1 143.2 h1.5 M135.1 142.6 h1.5 M135.1 142.0 h1.5 M135.1 137.9 h1.5" stroke="#111" stroke-width="0.7"/>
<path d="M136.6 176.7 v7 l-2 -1 l1 -1.5 l-1.5 -1 l1.2 -1.2 l-1.2 -1.3z" fill="#111"/>
<rect x="230.6" y="136.7" width="52.00000000000003" height="52.20000000000002" fill="white" stroke="#4a4a4a" stroke-width="1"/>
<g fill="#999"><circle cx="261.1" cy="169.1" r="0.3"/><circle cx="245.7" cy="173.6" r="0.3"/><circle cx="252.4" cy="170.4" r="0.3"/><circle cx="251.8" cy="170.4" r="0.3"/><circle cx="251.6" cy="172.1" r="0.3"/><circle cx="252.9" cy="171.9" r="0.3"/><circle cx="247.0" cy="168.0" r="0.3"/><circle cx="246.2" cy="170.8" r="0.3"/><circle cx="252.2" cy="166.6" r="0.3"/><circle cx="251.3" cy="175.7" r="0.3"/><circle cx="253.8" cy="164.7" r="0.3"/><circle cx="248.6" cy="169.9" r="0.3"/><circle cx="248.9" cy="169.1" r="0.3"/><circle cx="253.6" cy="169.0" r="0.3"/><circle cx="244.7" cy="170.1" r="0.3"/><circle cx="248.6" cy="168.3" r="0.3"/><circle cx="246.8" cy="164.0" r="0.3"/><circle cx="244.1" cy="167.0" r="0.3"/><circle cx="244.8" cy="160.1" r="0.3"/><circle cx="253.5" cy="164.6" r="0.3"/><circle cx="246.2" cy="169.6" r="0.3"/><circle cx="239.6" cy="171.9" r="0.3"/><circle cx="246.0" cy="169.9" r="0.3"/><circle cx="247.1" cy="168.9" r="0.3"/><circle cx="249.4" cy="168.0" r="0.3"/><circle cx="241.9" cy="163.7" r="0.3"/><circle cx="248.8" cy="172.1" r="0.3"/><circle cx="246.9" cy="169.6" r="0.3"/><circle cx="249.6" cy="169.4" r="0.3"/><circle cx="252.9" cy="163.6" r="0.3"/><circle cx="250.1" cy="167.5" r="0.3"/><circle cx="247.8" cy="165.5" r="0.3"/><circle cx="245.9" cy="165.0" r="0.3"/><circle cx="244.7" cy="175.3" r="0.3"/><circle cx="255.6" cy="168.0" r="0.3"/><circle cx="251.9" cy="165.1" r="0.3"/><circle cx="238.2" cy="162.7" r="0.3"/><circle cx="249.6" cy="172.2" r="0.3"/><circle cx="248.8" cy="165.1" r="0.3"/><circle cx="248.1" cy="165.1" r="0.3"/><circle cx="243.6" cy="167.3" r="0.3"/><circle cx="247.4" cy="165.6" r="0.3"/><circle cx="245.5" cy="165.3" r="0.3"/><circle cx="249.9" cy="172.1" r="0.3"/><circle cx="248.2" cy="174.5" r="0.3"/><circle cx="242.7" cy="168.8" r="0.3"/><circle cx="244.5" cy="167.5" r="0.3"/><circle cx="249.4" cy="169.6" r="0.3"/><circle cx="253.4" cy="166.4" r="0.3"/><circle cx="244.2" cy="167.4" r="0.3"/><circle cx="250.1" cy="166.0" r="0.3"/><circle cx="252.5" cy="172.9" r="0.3"/><circle cx="243.5" cy="169.1" r="0.3"/><circle cx="253.0" cy="162.4" r="0.3"/><circle cx="249.8" cy="167.3" r="0.3"/><circle cx="243.5" cy="171.8" r="0.3"/><circle cx="249.8" cy="166.6" r="0.3"/><circle cx="250.7" cy="169.9" r="0.3"/><circle cx="252.0" cy="169.7" r="0.3"/><circle cx="250.6" cy="164.6" r="0.3"/><circle cx="247.4" cy="168.4" r="0.3"/><circle cx="238.2" cy="174.2" r="0.3"/><circle cx="247.5" cy="164.9" r="0.3"/><circle cx="241.9" cy="168.7" r="0.3"/><circle cx="249.1" cy="166.3" r="0.3"/><circle cx="247.4" cy="165.4" r="0.3"/><circle cx="246.1" cy="167.7" r="0.3"/><circle cx="246.5" cy="170.0" r="0.3"/><circle cx="248.4" cy="168.4" r="0.3"/><circle cx="250.6" cy="171.7" r="0.3"/><circle cx="251.3" cy="168.7" r="0.3"/><circle cx="248.4" cy="165.6" r="0.3"/><circle cx="247.7" cy="170.0" r="0.3"/><circle cx="249.9" cy="166.9" r="0.3"/><circle cx="243.8" cy="163.5" r="0.3"/><circle cx="250.3" cy="171.0" r="0.3"/><circle cx="250.5" cy="164.0" r="0.3"/><circle cx="248.2" cy="168.6" r="0.3"/><circle cx="245.4" cy="169.0" r="0.3"/><circle cx="248.2" cy="165.6" r="0.3"/><circle cx="244.2" cy="170.4" r="0.3"/><circle cx="250.4" cy="165.4" r="0.3"/><circle cx="245.0" cy="170.6" r="0.3"/><circle cx="251.3" cy="167.1" r="0.3"/><circle cx="255.2" cy="167.2" r="0.3"/><circle cx="244.9" cy="171.2" r="0.3"/><circle cx="248.3" cy="169.0" r="0.3"/><circle cx="249.1" cy="165.1" r="0.3"/><circle cx="244.4" cy="167.4" r="0.3"/><circle cx="254.5" cy="165.1" r="0.3"/></g>
<g fill="#bbb"><circle cx="231.9" cy="167.6" r="0.3"/><circle cx="254.7" cy="160.8" r="0.3"/><circle cx="274.3" cy="158.4" r="0.3"/><circle cx="255.2" cy="183.2" r="0.3"/><circle cx="253.5" cy="162.3" r="0.3"/><circle cx="257.2" cy="179.7" r="0.3"/><circle cx="265.5" cy="175.4" r="0.3"/><circle cx="251.5" cy="138.8" r="0.3"/><circle cx="266.0" cy="165.6" r="0.3"/><circle cx="270.6" cy="176.9" r="0.3"/><circle cx="236.7" cy="148.2" r="0.3"/><circle cx="234.6" cy="179.4" r="0.3"/><circle cx="235.9" cy="141.3" r="0.3"/><circle cx="269.8" cy="166.2" r="0.3"/><circle cx="233.5" cy="172.2" r="0.3"/><circle cx="267.6" cy="161.9" r="0.3"/><circle cx="233.4" cy="172.8" r="0.3"/><circle cx="252.3" cy="167.2" r="0.3"/><circle cx="282.5" cy="179.3" r="0.3"/><circle cx="275.9" cy="144.3" r="0.3"/></g>
<g fill="#999"><circle cx="237.3" cy="181.3" r="0.3"/><circle cx="241.6" cy="180.6" r="0.3"/><circle cx="237.9" cy="181.1" r="0.3"/><circle cx="237.6" cy="181.1" r="0.3"/><circle cx="239.0" cy="179.7" r="0.3"/><circle cx="236.8" cy="180.4" r="0.3"/><circle cx="239.0" cy="180.7" r="0.3"/><circle cx="239.4" cy="179.4" r="0.3"/><circle cx="238.6" cy="180.0" r="0.3"/><circle cx="238.1" cy="180.7" r="0.3"/></g>
<g transform="translate(238.8 170.4) rotate(15)"><g fill="#888"><circle cx="-3.48" cy="-1.45" r="0.32"/><circle cx="-3.57" cy="1.44" r="0.32"/><circle cx="-3.09" cy="-3.17" r="0.32"/><circle cx="1.10" cy="-5.78" r="0.32"/><circle cx="3.25" cy="-3.19" r="0.32"/><circle cx="3.35" cy="1.97" r="0.32"/><circle cx="-3.53" cy="-1.31" r="0.32"/><circle cx="-3.25" cy="-2.48" r="0.32"/><circle cx="-0.57" cy="6.81" r="0.32"/><circle cx="-0.99" cy="6.54" r="0.32"/><circle cx="1.21" cy="-6.26" r="0.32"/><circle cx="-3.84" cy="1.99" r="0.32"/><circle cx="-3.72" cy="2.37" r="0.32"/><circle cx="3.39" cy="2.27" r="0.32"/><circle cx="-2.14" cy="-4.52" r="0.32"/><circle cx="2.18" cy="-4.50" r="0.32"/><circle cx="-2.83" cy="-3.45" r="0.32"/><circle cx="3.29" cy="-3.08" r="0.32"/><circle cx="1.15" cy="-6.16" r="0.32"/><circle cx="-1.75" cy="-5.97" r="0.32"/><circle cx="-0.96" cy="5.87" r="0.32"/><circle cx="1.80" cy="-5.12" r="0.32"/><circle cx="3.01" cy="-3.01" r="0.32"/><circle cx="2.72" cy="3.53" r="0.32"/><circle cx="0.86" cy="-6.93" r="0.32"/><circle cx="-3.26" cy="3.42" r="0.32"/><circle cx="-0.19" cy="7.02" r="0.32"/><circle cx="-1.34" cy="-5.55" r="0.32"/><circle cx="3.58" cy="2.35" r="0.32"/><circle cx="3.79" cy="1.80" r="0.32"/><circle cx="-0.94" cy="5.91" r="0.32"/><circle cx="-3.08" cy="-3.08" r="0.32"/><circle cx="-3.17" cy="-2.24" r="0.32"/><circle cx="3.01" cy="-3.29" r="0.32"/><circle cx="1.85" cy="-5.07" r="0.32"/><circle cx="1.23" cy="-6.79" r="0.32"/><circle cx="-2.58" cy="3.70" r="0.32"/><circle cx="-2.76" cy="4.57" r="0.32"/><circle cx="0.62" cy="6.46" r="0.32"/><circle cx="3.04" cy="3.58" r="0.32"/><circle cx="-0.49" cy="-6.34" r="0.32"/><circle cx="-1.46" cy="-5.39" r="0.32"/><circle cx="1.61" cy="-5.28" r="0.32"/><circle cx="3.59" cy="-3.31" r="0.32"/><circle cx="3.43" cy="-2.42" r="0.32"/></g><g filter="url(#bl)"><ellipse rx="3.00" ry="5.30" fill="#d4d4d4" stroke="#4a4a4a" stroke-width="1.0"/><ellipse rx="1.74" ry="3.07" fill="#e6e6e6" stroke="#7a7a7a" stroke-width="0.7"/><ellipse rx="0.75" ry="1.32" fill="#f4f4f4"/></g></g>
<g transform="translate(248.1 168.1) rotate(63)"><g fill="#888"><circle cx="-0.92" cy="6.41" r="0.32"/><circle cx="0.01" cy="-6.87" r="0.32"/><circle cx="3.06" cy="-2.65" r="0.32"/><circle cx="-4.06" cy="0.72" r="0.32"/><circle cx="-3.09" cy="-4.00" r="0.32"/><circle cx="2.91" cy="3.31" r="0.32"/><circle cx="-0.54" cy="7.46" r="0.32"/><circle cx="1.98" cy="-5.30" r="0.32"/><circle cx="2.96" cy="-2.78" r="0.32"/><circle cx="-3.39" cy="-4.45" r="0.32"/><circle cx="-2.32" cy="6.31" r="0.32"/><circle cx="-1.85" cy="-5.11" r="0.32"/><circle cx="-1.85" cy="5.89" r="0.32"/><circle cx="0.06" cy="7.27" r="0.32"/><circle cx="1.73" cy="6.63" r="0.32"/><circle cx="-1.00" cy="5.88" r="0.32"/><circle cx="-3.15" cy="-2.26" r="0.32"/><circle cx="-3.80" cy="-2.34" r="0.32"/><circle cx="-3.06" cy="-3.85" r="0.32"/><circle cx="3.68" cy="1.45" r="0.32"/><circle cx="3.18" cy="4.08" r="0.32"/><circle cx="2.58" cy="5.16" r="0.32"/><circle cx="-2.19" cy="5.32" r="0.32"/><circle cx="-1.79" cy="-5.40" r="0.32"/><circle cx="2.00" cy="6.66" r="0.32"/><circle cx="-1.99" cy="6.48" r="0.32"/><circle cx="2.61" cy="-4.89" r="0.32"/><circle cx="2.01" cy="5.00" r="0.32"/><circle cx="2.47" cy="-4.30" r="0.32"/><circle cx="-3.78" cy="0.17" r="0.32"/><circle cx="2.75" cy="4.59" r="0.32"/><circle cx="1.95" cy="5.95" r="0.32"/><circle cx="-3.63" cy="-0.28" r="0.32"/><circle cx="1.18" cy="6.36" r="0.32"/><circle cx="0.98" cy="5.99" r="0.32"/><circle cx="0.26" cy="7.47" r="0.32"/><circle cx="-4.10" cy="-0.08" r="0.32"/><circle cx="4.13" cy="0.72" r="0.32"/><circle cx="-4.00" cy="0.54" r="0.32"/><circle cx="-3.54" cy="-3.08" r="0.32"/><circle cx="0.52" cy="7.23" r="0.32"/><circle cx="2.01" cy="5.33" r="0.32"/><circle cx="3.59" cy="1.29" r="0.32"/><circle cx="-3.54" cy="-0.74" r="0.32"/><circle cx="2.61" cy="-3.93" r="0.32"/><circle cx="-3.09" cy="-3.05" r="0.32"/><circle cx="-3.31" cy="-4.14" r="0.32"/><circle cx="-0.82" cy="-5.97" r="0.32"/><circle cx="0.10" cy="7.04" r="0.32"/><circle cx="3.32" cy="-0.65" r="0.32"/><circle cx="-2.89" cy="-4.86" r="0.32"/><circle cx="1.43" cy="-6.08" r="0.32"/><circle cx="1.38" cy="-6.32" r="0.32"/><circle cx="2.91" cy="-2.89" r="0.32"/><circle cx="3.42" cy="-2.47" r="0.32"/><circle cx="-2.82" cy="3.41" r="0.32"/><circle cx="0.13" cy="7.26" r="0.32"/><circle cx="-1.49" cy="-5.68" r="0.32"/><circle cx="-1.91" cy="5.21" r="0.32"/><circle cx="1.12" cy="6.08" r="0.32"/><circle cx="-2.04" cy="6.69" r="0.32"/><circle cx="4.01" cy="-0.13" r="0.32"/><circle cx="-3.72" cy="0.87" r="0.32"/><circle cx="0.75" cy="-7.42" r="0.32"/><circle cx="0.04" cy="-7.10" r="0.32"/><circle cx="1.22" cy="6.72" r="0.32"/><circle cx="2.27" cy="-6.06" r="0.32"/><circle cx="3.30" cy="3.97" r="0.32"/><circle cx="-2.01" cy="5.13" r="0.32"/><circle cx="3.82" cy="-1.53" r="0.32"/></g><g filter="url(#bl)"><ellipse rx="3.00" ry="5.50" fill="#d8d8d8" stroke="#505050" stroke-width="1.0"/><ellipse rx="1.74" ry="3.19" fill="#e8e8e8" stroke="#7e7e7e" stroke-width="0.7"/><ellipse rx="0.75" ry="1.38" fill="#f4f4f4"/></g></g>
<rect x="230.6" y="136.7" width="12.5" height="40.900000000000006" fill="none" stroke="#5aa5e0" stroke-width="1.3"/>
<rect x="243.1" y="136.7" width="39.50000000000003" height="40.900000000000006" fill="none" stroke="#2c4a8c" stroke-width="1.3"/>
<rect x="230.9" y="178.9" width="11.900000000000016" height="9.599999999999994" fill="none" stroke="#5b2a7a" stroke-width="1.2"/>
<text x="233.0" y="142.3" font-size="4.6" fill="#222" textLength="8.6" lengthAdjust="spacingAndGlyphs" stroke="#222" stroke-width="0.1">CMP</text>
<text x="271.0" y="142.3" font-size="4.6" fill="#222" textLength="9.0" lengthAdjust="spacingAndGlyphs" stroke="#222" stroke-width="0.1">GMP</text>
<text x="233.6" y="187.0" font-size="4.0" fill="#222" textLength="7.5" lengthAdjust="spacingAndGlyphs" stroke="#222" stroke-width="0.1">MEP</text>
<text x="239.4" y="199.9" font-size="6.4" fill="#1a1a1a" text-anchor="middle" stroke="#222" stroke-width="0.13">0</text>
<text x="252.0" y="199.9" font-size="6.4" fill="#1a1a1a" text-anchor="middle" textLength="5.9" lengthAdjust="spacingAndGlyphs" stroke="#222" stroke-width="0.13">10</text>
<text x="255.8" y="197.6" font-size="4.1" fill="#1a1a1a" text-anchor="middle" stroke="#222" stroke-width="0.06">3</text>
<text x="264.40000000000003" y="199.9" font-size="6.4" fill="#1a1a1a" text-anchor="middle" textLength="5.9" lengthAdjust="spacingAndGlyphs" stroke="#222" stroke-width="0.13">10</text>
<text x="268.2" y="197.6" font-size="4.1" fill="#1a1a1a" text-anchor="middle" stroke="#222" stroke-width="0.06">4</text>
<text x="276.40000000000003" y="199.9" font-size="6.4" fill="#1a1a1a" text-anchor="middle" textLength="5.9" lengthAdjust="spacingAndGlyphs" stroke="#222" stroke-width="0.13">10</text>
<text x="280.2" y="197.6" font-size="4.1" fill="#1a1a1a" text-anchor="middle" stroke="#222" stroke-width="0.06">5</text>
<path d="M252.5 188.9 v2.6 M264.3 188.9 v2.6 M276.0 188.9 v2.6 M246.21 188.9 v2.2 M247.79 188.9 v2.2 M248.92 188.9 v2.2 M249.79 188.9 v2.2 M250.50 188.9 v2.2 M251.11 188.9 v2.2 M251.63 188.9 v2.2 M252.09 188.9 v2.2 M256.05 188.9 v2.2 M258.13 188.9 v2.2 M259.60 188.9 v2.2 M260.75 188.9 v2.2 M261.68 188.9 v2.2 M262.47 188.9 v2.2 M263.16 188.9 v2.2 M263.76 188.9 v2.2 M267.75 188.9 v2.2 M269.83 188.9 v2.2 M271.30 188.9 v2.2 M272.45 188.9 v2.2 M273.38 188.9 v2.2 M274.17 188.9 v2.2 M274.86 188.9 v2.2 M275.46 188.9 v2.2 M279.55 188.9 v2.2 M281.63 188.9 v2.2 M231.6 188.9 v1.6 M233.2 188.9 v1.6" stroke="#000" stroke-width="0.75" fill="none"/>
<path d="M235.79999999999998 188.9 h6 l-0.5 2.6 h-1 l-0.6 -1 l-0.8 1.4 l-0.8 -1.2 l-0.8 1.3 l-1 -1.2z" fill="#000"/>
<text x="225.6" y="183.0" font-size="6.4" fill="#1a1a1a" text-anchor="end" stroke="#222" stroke-width="0.13">0</text>
<text x="222.6" y="168.2" font-size="6.4" fill="#1a1a1a" text-anchor="end" textLength="6.0" lengthAdjust="spacingAndGlyphs" stroke="#222" stroke-width="0.13">10</text>
<text x="223.6" y="165.29999999999998" font-size="4.1" fill="#1a1a1a" text-anchor="middle" stroke="#222" stroke-width="0.06">3</text>
<text x="222.6" y="155.9" font-size="6.4" fill="#1a1a1a" text-anchor="end" textLength="6.0" lengthAdjust="spacingAndGlyphs" stroke="#222" stroke-width="0.13">10</text>
<text x="223.6" y="153.0" font-size="4.1" fill="#1a1a1a" text-anchor="middle" stroke="#222" stroke-width="0.06">4</text>
<text x="222.6" y="143.9" font-size="6.4" fill="#1a1a1a" text-anchor="end" textLength="6.0" lengthAdjust="spacingAndGlyphs" stroke="#222" stroke-width="0.13">10</text>
<text x="223.6" y="141.0" font-size="4.1" fill="#1a1a1a" text-anchor="middle" stroke="#222" stroke-width="0.06">5</text>
<path d="M227.6 180.7 h3 M227.6 165.9 h3 M227.6 153.6 h3 M227.6 141.6 h3 M229.1 177.7 h1.5 M229.1 175.7 h1.5 M229.1 173.7 h1.5 M229.1 182.7 h1.5 M229.1 184.7 h1.5 M229.1 162.2 h1.5 M229.1 160.0 h1.5 M229.1 158.6 h1.5 M229.1 157.4 h1.5 M229.1 156.4 h1.5 M229.1 155.5 h1.5 M229.1 154.9 h1.5 M229.1 154.3 h1.5 M229.1 149.9 h1.5 M229.1 147.7 h1.5 M229.1 146.3 h1.5 M229.1 145.1 h1.5 M229.1 144.1 h1.5 M229.1 143.2 h1.5 M229.1 142.6 h1.5 M229.1 142.0 h1.5 M229.1 137.9 h1.5" stroke="#111" stroke-width="0.7"/>
<path d="M230.6 176.7 v7 l-2 -1 l1 -1.5 l-1.5 -1 l1.2 -1.2 l-1.2 -1.3z" fill="#111"/>
<line x1="333.5" y1="31" x2="333.5" y2="176.9" stroke="#111" stroke-width="1"/>
<line x1="333.0" y1="176.9" x2="502" y2="176.9" stroke="#111" stroke-width="1"/>
<line x1="329.0" y1="176.9" x2="333.5" y2="176.9" stroke="#111" stroke-width="0.9"/>
<text x="327.4" y="179.8" font-size="7.2" fill="#222" text-anchor="end" stroke="#1a1a1a" stroke-width="0.12">0</text>
<line x1="329.0" y1="147.6" x2="333.5" y2="147.6" stroke="#111" stroke-width="0.9"/>
<text x="327.4" y="150.1" font-size="7.2" fill="#222" text-anchor="end" stroke="#1a1a1a" stroke-width="0.12">25</text>
<line x1="329.0" y1="117.9" x2="333.5" y2="117.9" stroke="#111" stroke-width="0.9"/>
<text x="327.4" y="120.4" font-size="7.2" fill="#222" text-anchor="end" stroke="#1a1a1a" stroke-width="0.12">50</text>
<line x1="329.0" y1="88.6" x2="333.5" y2="88.6" stroke="#111" stroke-width="0.9"/>
<text x="327.4" y="91.1" font-size="7.2" fill="#222" text-anchor="end" stroke="#1a1a1a" stroke-width="0.12">75</text>
<line x1="329.0" y1="59.6" x2="333.5" y2="59.6" stroke="#111" stroke-width="0.9"/>
<text x="327.4" y="62.1" font-size="7.2" fill="#222" text-anchor="end" stroke="#1a1a1a" stroke-width="0.12">100</text>
<text x="308.5" y="103.6" font-size="9.6" fill="#1a1a1a" text-anchor="middle" textLength="76.0" lengthAdjust="spacingAndGlyphs" transform="rotate(-90 308.5 103.6)" stroke="#1a1a1a" stroke-width="0.06">Percentage of cells</text>
<line x1="347.75" y1="176.9" x2="347.75" y2="179.9" stroke="#111" stroke-width="0.9"/>
<line x1="375.7" y1="176.9" x2="375.7" y2="179.9" stroke="#111" stroke-width="0.9"/>
<line x1="403.9" y1="176.9" x2="403.9" y2="179.9" stroke="#111" stroke-width="0.9"/>
<line x1="431.9" y1="176.9" x2="431.9" y2="179.9" stroke="#111" stroke-width="0.9"/>
<line x1="460" y1="176.9" x2="460" y2="179.9" stroke="#111" stroke-width="0.9"/>
<line x1="488.2" y1="176.9" x2="488.2" y2="179.9" stroke="#111" stroke-width="0.9"/>
<rect x="338.1" y="60.8" width="19.3" height="39.60000000000001" fill="#9389c9" stroke="none" stroke-width="1"/>
<rect x="338.1" y="100.4" width="19.3" height="3.5999999999999943" fill="#4b1f63" stroke="none" stroke-width="1"/>
<rect x="338.1" y="104" width="19.3" height="18.700000000000003" fill="#2c4a85" stroke="none" stroke-width="1"/>
<rect x="338.1" y="122.7" width="19.3" height="35.2" fill="#62a6e0" stroke="none" stroke-width="1"/>
<rect x="338.1" y="157.9" width="19.3" height="5.400000000000006" fill="#2f6549" stroke="none" stroke-width="1"/>
<rect x="338.1" y="163.3" width="19.3" height="0.799999999999983" fill="#6db146" stroke="none" stroke-width="1"/>
<rect x="338.1" y="164.1" width="19.3" height="1.0999999999999943" fill="#eab91f" stroke="none" stroke-width="1"/>
<rect x="338.1" y="165.2" width="19.3" height="7.800000000000011" fill="#d8968b" stroke="none" stroke-width="1"/>
<rect x="338.1" y="173" width="19.3" height="3.4000000000000057" fill="#a50d2f" stroke="none" stroke-width="1"/>
<rect x="366.05" y="60.8" width="19.3" height="46.3" fill="#9389c9" stroke="none" stroke-width="1"/>
<rect x="366.05" y="107.1" width="19.3" height="0.6000000000000085" fill="#4b1f63" stroke="none" stroke-width="1"/>
<rect x="366.05" y="107.7" width="19.3" height="23.299999999999997" fill="#2c4a85" stroke="none" stroke-width="1"/>
<rect x="366.05" y="131" width="19.3" height="27.599999999999994" fill="#62a6e0" stroke="none" stroke-width="1"/>
<rect x="366.05" y="158.6" width="19.3" height="5.300000000000011" fill="#2f6549" stroke="none" stroke-width="1"/>
<rect x="366.05" y="163.9" width="19.3" height="4.799999999999983" fill="#6db146" stroke="none" stroke-width="1"/>
<rect x="366.05" y="168.7" width="19.3" height="0.9000000000000057" fill="#eab91f" stroke="none" stroke-width="1"/>
<rect x="366.05" y="169.6" width="19.3" height="1.200000000000017" fill="#d8968b" stroke="none" stroke-width="1"/>
<rect x="366.05" y="170.8" width="19.3" height="5.599999999999994" fill="#a50d2f" stroke="none" stroke-width="1"/>
<rect x="394.25" y="60.8" width="19.3" height="47.2" fill="#9389c9" stroke="none" stroke-width="1"/>
<rect x="394.25" y="108" width="19.3" height="0.5999999999999943" fill="#4b1f63" stroke="none" stroke-width="1"/>
<rect x="394.25" y="108.6" width="19.3" height="20.099999999999994" fill="#2c4a85" stroke="none" stroke-width="1"/>
<rect x="394.25" y="128.7" width="19.3" height="28.30000000000001" fill="#62a6e0" stroke="none" stroke-width="1"/>
<rect x="394.25" y="157" width="19.3" height="5.599999999999994" fill="#2f6549" stroke="none" stroke-width="1"/>
<rect x="394.25" y="162.6" width="19.3" height="4.800000000000011" fill="#6db146" stroke="none" stroke-width="1"/>
<rect x="394.25" y="167.4" width="19.3" height="0.9000000000000057" fill="#eab91f" stroke="none" stroke-width="1"/>
<rect x="394.25" y="168.3" width="19.3" height="3.0999999999999943" fill="#d8968b" stroke="none" stroke-width="1"/>
<rect x="394.25" y="171.4" width="19.3" height="5.0" fill="#a50d2f" stroke="none" stroke-width="1"/>
<rect x="450.35" y="61.2" width="19.3" height="5.299999999999997" fill="#4b1f63" stroke="none" stroke-width="1"/>
<rect x="450.35" y="66.5" width="19.3" height="17.299999999999997" fill="#2c4a85" stroke="none" stroke-width="1"/>
<rect x="450.35" y="83.8" width="19.3" height="78.00000000000001" fill="#62a6e0" stroke="none" stroke-width="1"/>
<rect x="450.35" y="161.8" width="19.3" height="2.0" fill="#2f6549" stroke="none" stroke-width="1"/>
<rect x="450.35" y="163.8" width="19.3" height="1.1999999999999886" fill="#6db146" stroke="none" stroke-width="1"/>
<rect x="450.35" y="165" width="19.3" height="2.8000000000000114" fill="#eab91f" stroke="none" stroke-width="1"/>
<rect x="450.35" y="167.8" width="19.3" height="4.799999999999983" fill="#d8968b" stroke="none" stroke-width="1"/>
<rect x="450.35" y="172.6" width="19.3" height="3.8000000000000114" fill="#a50d2f" stroke="none" stroke-width="1"/>
<rect x="478.55" y="61.6" width="19.3" height="1.5" fill="#4b1f63" stroke="none" stroke-width="1"/>
<rect x="478.55" y="63.1" width="19.3" height="23.800000000000004" fill="#2c4a85" stroke="none" stroke-width="1"/>
<rect x="478.55" y="86.9" width="19.3" height="51.19999999999999" fill="#62a6e0" stroke="none" stroke-width="1"/>
<rect x="478.55" y="138.1" width="19.3" height="3.0999999999999943" fill="#2f6549" stroke="none" stroke-width="1"/>
<rect x="478.55" y="141.2" width="19.3" height="5.0" fill="#6db146" stroke="none" stroke-width="1"/>
<rect x="478.55" y="146.2" width="19.3" height="7.200000000000017" fill="#eab91f" stroke="none" stroke-width="1"/>
<rect x="478.55" y="153.4" width="19.3" height="12.0" fill="#d8968b" stroke="none" stroke-width="1"/>
<rect x="478.55" y="165.4" width="19.3" height="11.0" fill="#a50d2f" stroke="none" stroke-width="1"/>
<line x1="347.75" y1="35.7" x2="347.75" y2="60.8" stroke="#111" stroke-width="0.9"/>
<line x1="343.15" y1="35.7" x2="352.35" y2="35.7" stroke="#111" stroke-width="1.0"/>
<line x1="347.75" y1="92.8" x2="347.75" y2="103" stroke="#111" stroke-width="0.9"/>
<line x1="343.15" y1="92.8" x2="352.35" y2="92.8" stroke="#111" stroke-width="1.0"/>
<line x1="347.75" y1="95.3" x2="347.75" y2="103" stroke="#111" stroke-width="0.9"/>
<line x1="343.15" y1="95.3" x2="352.35" y2="95.3" stroke="#111" stroke-width="1.0"/>
<line x1="347.75" y1="108.5" x2="347.75" y2="122.7" stroke="#111" stroke-width="0.9"/>
<line x1="343.15" y1="108.5" x2="352.35" y2="108.5" stroke="#111" stroke-width="1.0"/>
<line x1="347.75" y1="153.2" x2="347.75" y2="163" stroke="#111" stroke-width="0.9"/>
<line x1="343.15" y1="153.2" x2="352.35" y2="153.2" stroke="#111" stroke-width="1.0"/>
<line x1="347.75" y1="155.2" x2="347.75" y2="163" stroke="#111" stroke-width="0.9"/>
<line x1="343.15" y1="155.2" x2="352.35" y2="155.2" stroke="#111" stroke-width="1.0"/>
<line x1="347.75" y1="161.4" x2="347.75" y2="163" stroke="#111" stroke-width="0.9"/>
<line x1="343.15" y1="161.4" x2="352.35" y2="161.4" stroke="#111" stroke-width="1.0"/>
<line x1="347.75" y1="168.5" x2="347.75" y2="173" stroke="#111" stroke-width="0.9"/>
<line x1="343.15" y1="168.5" x2="352.35" y2="168.5" stroke="#111" stroke-width="1.0"/>
<line x1="375.7" y1="57.6" x2="375.7" y2="60.8" stroke="#111" stroke-width="0.9"/>
<line x1="371.09999999999997" y1="57.6" x2="380.3" y2="57.6" stroke="#111" stroke-width="1.0"/>
<line x1="375.7" y1="106.3" x2="375.7" y2="107.5" stroke="#111" stroke-width="0.9"/>
<line x1="371.09999999999997" y1="106.3" x2="380.3" y2="106.3" stroke="#111" stroke-width="1.0"/>
<line x1="375.7" y1="126.5" x2="375.7" y2="131" stroke="#111" stroke-width="0.9"/>
<line x1="371.09999999999997" y1="126.5" x2="380.3" y2="126.5" stroke="#111" stroke-width="1.0"/>
<line x1="375.7" y1="154.8" x2="375.7" y2="160" stroke="#111" stroke-width="0.9"/>
<line x1="371.09999999999997" y1="154.8" x2="380.3" y2="154.8" stroke="#111" stroke-width="1.0"/>
<line x1="375.7" y1="159.9" x2="375.7" y2="163.9" stroke="#111" stroke-width="0.9"/>
<line x1="371.09999999999997" y1="159.9" x2="380.3" y2="159.9" stroke="#111" stroke-width="1.0"/>
<line x1="375.7" y1="168.3" x2="375.7" y2="169" stroke="#111" stroke-width="0.9"/>
<line x1="371.09999999999997" y1="168.3" x2="380.3" y2="168.3" stroke="#111" stroke-width="1.0"/>
<line x1="375.7" y1="171.7" x2="375.7" y2="172" stroke="#111" stroke-width="0.9"/>
<line x1="371.09999999999997" y1="171.7" x2="380.3" y2="171.7" stroke="#111" stroke-width="1.0"/>
<line x1="403.9" y1="46.8" x2="403.9" y2="60.8" stroke="#111" stroke-width="0.9"/>
<line x1="399.29999999999995" y1="46.8" x2="408.5" y2="46.8" stroke="#111" stroke-width="1.0"/>
<line x1="403.9" y1="108" x2="403.9" y2="108.6" stroke="#111" stroke-width="0.9"/>
<line x1="399.29999999999995" y1="108" x2="408.5" y2="108" stroke="#111" stroke-width="1.0"/>
<line x1="403.9" y1="117.9" x2="403.9" y2="128.7" stroke="#111" stroke-width="0.9"/>
<line x1="399.29999999999995" y1="117.9" x2="408.5" y2="117.9" stroke="#111" stroke-width="1.0"/>
<line x1="403.9" y1="153.8" x2="403.9" y2="158" stroke="#111" stroke-width="0.9"/>
<line x1="399.29999999999995" y1="153.8" x2="408.5" y2="153.8" stroke="#111" stroke-width="1.0"/>
<line x1="403.9" y1="158" x2="403.9" y2="162.6" stroke="#111" stroke-width="0.9"/>
<line x1="399.29999999999995" y1="158" x2="408.5" y2="158" stroke="#111" stroke-width="1.0"/>
<line x1="403.9" y1="164.5" x2="403.9" y2="167.4" stroke="#111" stroke-width="0.9"/>
<line x1="399.29999999999995" y1="164.5" x2="408.5" y2="164.5" stroke="#111" stroke-width="1.0"/>
<line x1="403.9" y1="165.4" x2="403.9" y2="167.4" stroke="#111" stroke-width="0.9"/>
<line x1="399.29999999999995" y1="165.4" x2="408.5" y2="165.4" stroke="#111" stroke-width="1.0"/>
<line x1="403.9" y1="169.2" x2="403.9" y2="171.4" stroke="#111" stroke-width="0.9"/>
<line x1="399.29999999999995" y1="169.2" x2="408.5" y2="169.2" stroke="#111" stroke-width="1.0"/>
<line x1="460" y1="56.3" x2="460" y2="63" stroke="#111" stroke-width="0.9"/>
<line x1="455.4" y1="56.3" x2="464.6" y2="56.3" stroke="#111" stroke-width="1.0"/>
<line x1="460" y1="59" x2="460" y2="63" stroke="#111" stroke-width="0.9"/>
<line x1="455.4" y1="59" x2="464.6" y2="59" stroke="#111" stroke-width="1.0"/>
<line x1="460" y1="75.7" x2="460" y2="83.8" stroke="#111" stroke-width="0.9"/>
<line x1="455.4" y1="75.7" x2="464.6" y2="75.7" stroke="#111" stroke-width="1.0"/>
<line x1="460" y1="161.8" x2="460" y2="165" stroke="#111" stroke-width="0.9"/>
<line x1="455.4" y1="161.8" x2="464.6" y2="161.8" stroke="#111" stroke-width="1.0"/>
<line x1="460" y1="163.6" x2="460" y2="166" stroke="#111" stroke-width="0.9"/>
<line x1="455.4" y1="163.6" x2="464.6" y2="163.6" stroke="#111" stroke-width="1.0"/>
<line x1="460" y1="167.2" x2="460" y2="168.5" stroke="#111" stroke-width="0.9"/>
<line x1="455.4" y1="167.2" x2="464.6" y2="167.2" stroke="#111" stroke-width="1.0"/>
<line x1="488.2" y1="52.7" x2="488.2" y2="61.6" stroke="#111" stroke-width="0.9"/>
<line x1="483.59999999999997" y1="52.7" x2="492.8" y2="52.7" stroke="#111" stroke-width="1.0"/>
<line x1="488.2" y1="61.2" x2="488.2" y2="62" stroke="#111" stroke-width="0.9"/>
<line x1="483.59999999999997" y1="61.2" x2="492.8" y2="61.2" stroke="#111" stroke-width="1.0"/>
<line x1="488.2" y1="64" x2="488.2" y2="86" stroke="#111" stroke-width="0.9"/>
<line x1="483.59999999999997" y1="64" x2="492.8" y2="64" stroke="#111" stroke-width="1.0"/>
<line x1="488.2" y1="137.2" x2="488.2" y2="152.5" stroke="#111" stroke-width="0.9"/>
<line x1="483.59999999999997" y1="137.2" x2="492.8" y2="137.2" stroke="#111" stroke-width="1.0"/>
<line x1="488.2" y1="139.9" x2="488.2" y2="152.5" stroke="#111" stroke-width="0.9"/>
<line x1="483.59999999999997" y1="139.9" x2="492.8" y2="139.9" stroke="#111" stroke-width="1.0"/>
<line x1="488.2" y1="156.6" x2="488.2" y2="165" stroke="#111" stroke-width="0.9"/>
<line x1="483.59999999999997" y1="156.6" x2="492.8" y2="156.6" stroke="#111" stroke-width="1.0"/>
<text x="347.75" y="30.7" font-size="7.3" fill="#1a1a1a" text-anchor="middle" textLength="12.6" lengthAdjust="spacingAndGlyphs">n=8</text>
<text x="375.7" y="30.7" font-size="7.3" fill="#1a1a1a" text-anchor="middle" textLength="12.6" lengthAdjust="spacingAndGlyphs">n=2</text>
<text x="403.9" y="30.7" font-size="7.3" fill="#1a1a1a" text-anchor="middle" textLength="12.6" lengthAdjust="spacingAndGlyphs">n=3</text>
<text x="460" y="30.7" font-size="7.3" fill="#1a1a1a" text-anchor="middle" textLength="12.6" lengthAdjust="spacingAndGlyphs">n=4</text>
<text x="488.2" y="30.7" font-size="7.3" fill="#1a1a1a" text-anchor="middle" textLength="12.6" lengthAdjust="spacingAndGlyphs">n=6</text>
<text x="351.05" y="189.2" font-size="8.5" fill="#1a1a1a" text-anchor="end" textLength="24" lengthAdjust="spacingAndGlyphs" transform="rotate(-45 351.05 189.2)" stroke="#1a1a1a" stroke-width="0.12">HD BM</text>
<text x="379.0" y="189.2" font-size="8.5" fill="#1a1a1a" text-anchor="end" textLength="52" lengthAdjust="spacingAndGlyphs" transform="rotate(-45 379.0 189.2)" stroke="#1a1a1a" stroke-width="0.12">SCD BM pre-Plx</text>
<text x="407.2" y="189.2" font-size="8.5" fill="#1a1a1a" text-anchor="end" textLength="55.5" lengthAdjust="spacingAndGlyphs" transform="rotate(-45 407.2 189.2)" stroke="#1a1a1a" stroke-width="0.12">SCD BM post-Plx</text>
<text x="463.3" y="189.2" font-size="8.5" fill="#1a1a1a" text-anchor="end" textLength="49" lengthAdjust="spacingAndGlyphs" transform="rotate(-45 463.3 189.2)" stroke="#1a1a1a" stroke-width="0.12">HD AP (G-CSF)</text>
<text x="491.5" y="189.2" font-size="8.5" fill="#1a1a1a" text-anchor="end" textLength="27" lengthAdjust="spacingAndGlyphs" transform="rotate(-45 491.5 189.2)" stroke="#1a1a1a" stroke-width="0.12">SCD AP</text>
<rect x="360.5" y="242.3" width="9.5" height="4.5" fill="#9389c9" stroke="none" stroke-width="1"/>
<text x="372.7" y="247.3" font-size="7.9" fill="#1a1a1a" textLength="14.6" lengthAdjust="spacingAndGlyphs" stroke="#1a1a1a" stroke-width="0.12">LIN+</text>
<rect x="399.8" y="242.3" width="9.5" height="4.5" fill="#62a6e0" stroke="none" stroke-width="1"/>
<text x="412.0" y="247.3" font-size="7.9" fill="#1a1a1a" textLength="14.6" lengthAdjust="spacingAndGlyphs" stroke="#1a1a1a" stroke-width="0.12">CMP</text>
<rect x="456.9" y="242.3" width="9.5" height="4.5" fill="#eab91f" stroke="none" stroke-width="1"/>
<text x="469.09999999999997" y="247.3" font-size="7.9" fill="#1a1a1a" textLength="14.3" lengthAdjust="spacingAndGlyphs" stroke="#1a1a1a" stroke-width="0.12">MLP</text>
<rect x="360.5" y="253.3" width="9.5" height="4.5" fill="#4b1f63" stroke="none" stroke-width="1"/>
<text x="372.7" y="258.3" font-size="7.9" fill="#1a1a1a" textLength="14.6" lengthAdjust="spacingAndGlyphs" stroke="#1a1a1a" stroke-width="0.12">MEP</text>
<rect x="399.8" y="253.3" width="9.5" height="4.5" fill="#2f6549" stroke="none" stroke-width="1"/>
<text x="412.0" y="258.3" font-size="7.9" fill="#1a1a1a" textLength="29.6" lengthAdjust="spacingAndGlyphs" stroke="#1a1a1a" stroke-width="0.12">PRE B/NK</text>
<rect x="456.9" y="253.3" width="9.5" height="4.5" fill="#d8968b" stroke="none" stroke-width="1"/>
<text x="469.09999999999997" y="258.3" font-size="7.9" fill="#1a1a1a" textLength="15.1" lengthAdjust="spacingAndGlyphs" stroke="#1a1a1a" stroke-width="0.12">MPP</text>
<rect x="360.5" y="264.3" width="9.5" height="4.5" fill="#2c4a85" stroke="none" stroke-width="1"/>
<text x="372.7" y="269.3" font-size="7.9" fill="#1a1a1a" textLength="15.2" lengthAdjust="spacingAndGlyphs" stroke="#1a1a1a" stroke-width="0.12">GMP</text>
<rect x="399.8" y="264.3" width="9.5" height="4.5" fill="#6db146" stroke="none" stroke-width="1"/>
<text x="412.0" y="269.3" font-size="7.9" fill="#1a1a1a" textLength="11.8" lengthAdjust="spacingAndGlyphs" stroke="#1a1a1a" stroke-width="0.12">ETP</text>
<rect x="456.9" y="264.3" width="9.5" height="4.5" fill="#a50d2f" stroke="none" stroke-width="1"/>
<text x="469.09999999999997" y="269.3" font-size="7.9" fill="#1a1a1a" textLength="13.4" lengthAdjust="spacingAndGlyphs" stroke="#1a1a1a" stroke-width="0.12">HSC</text>
<rect x="0.75" y="0.75" width="518.5" height="276.5" fill="none" stroke="#3a3a3a" stroke-width="1.5"/>
</svg>
</body></html>
